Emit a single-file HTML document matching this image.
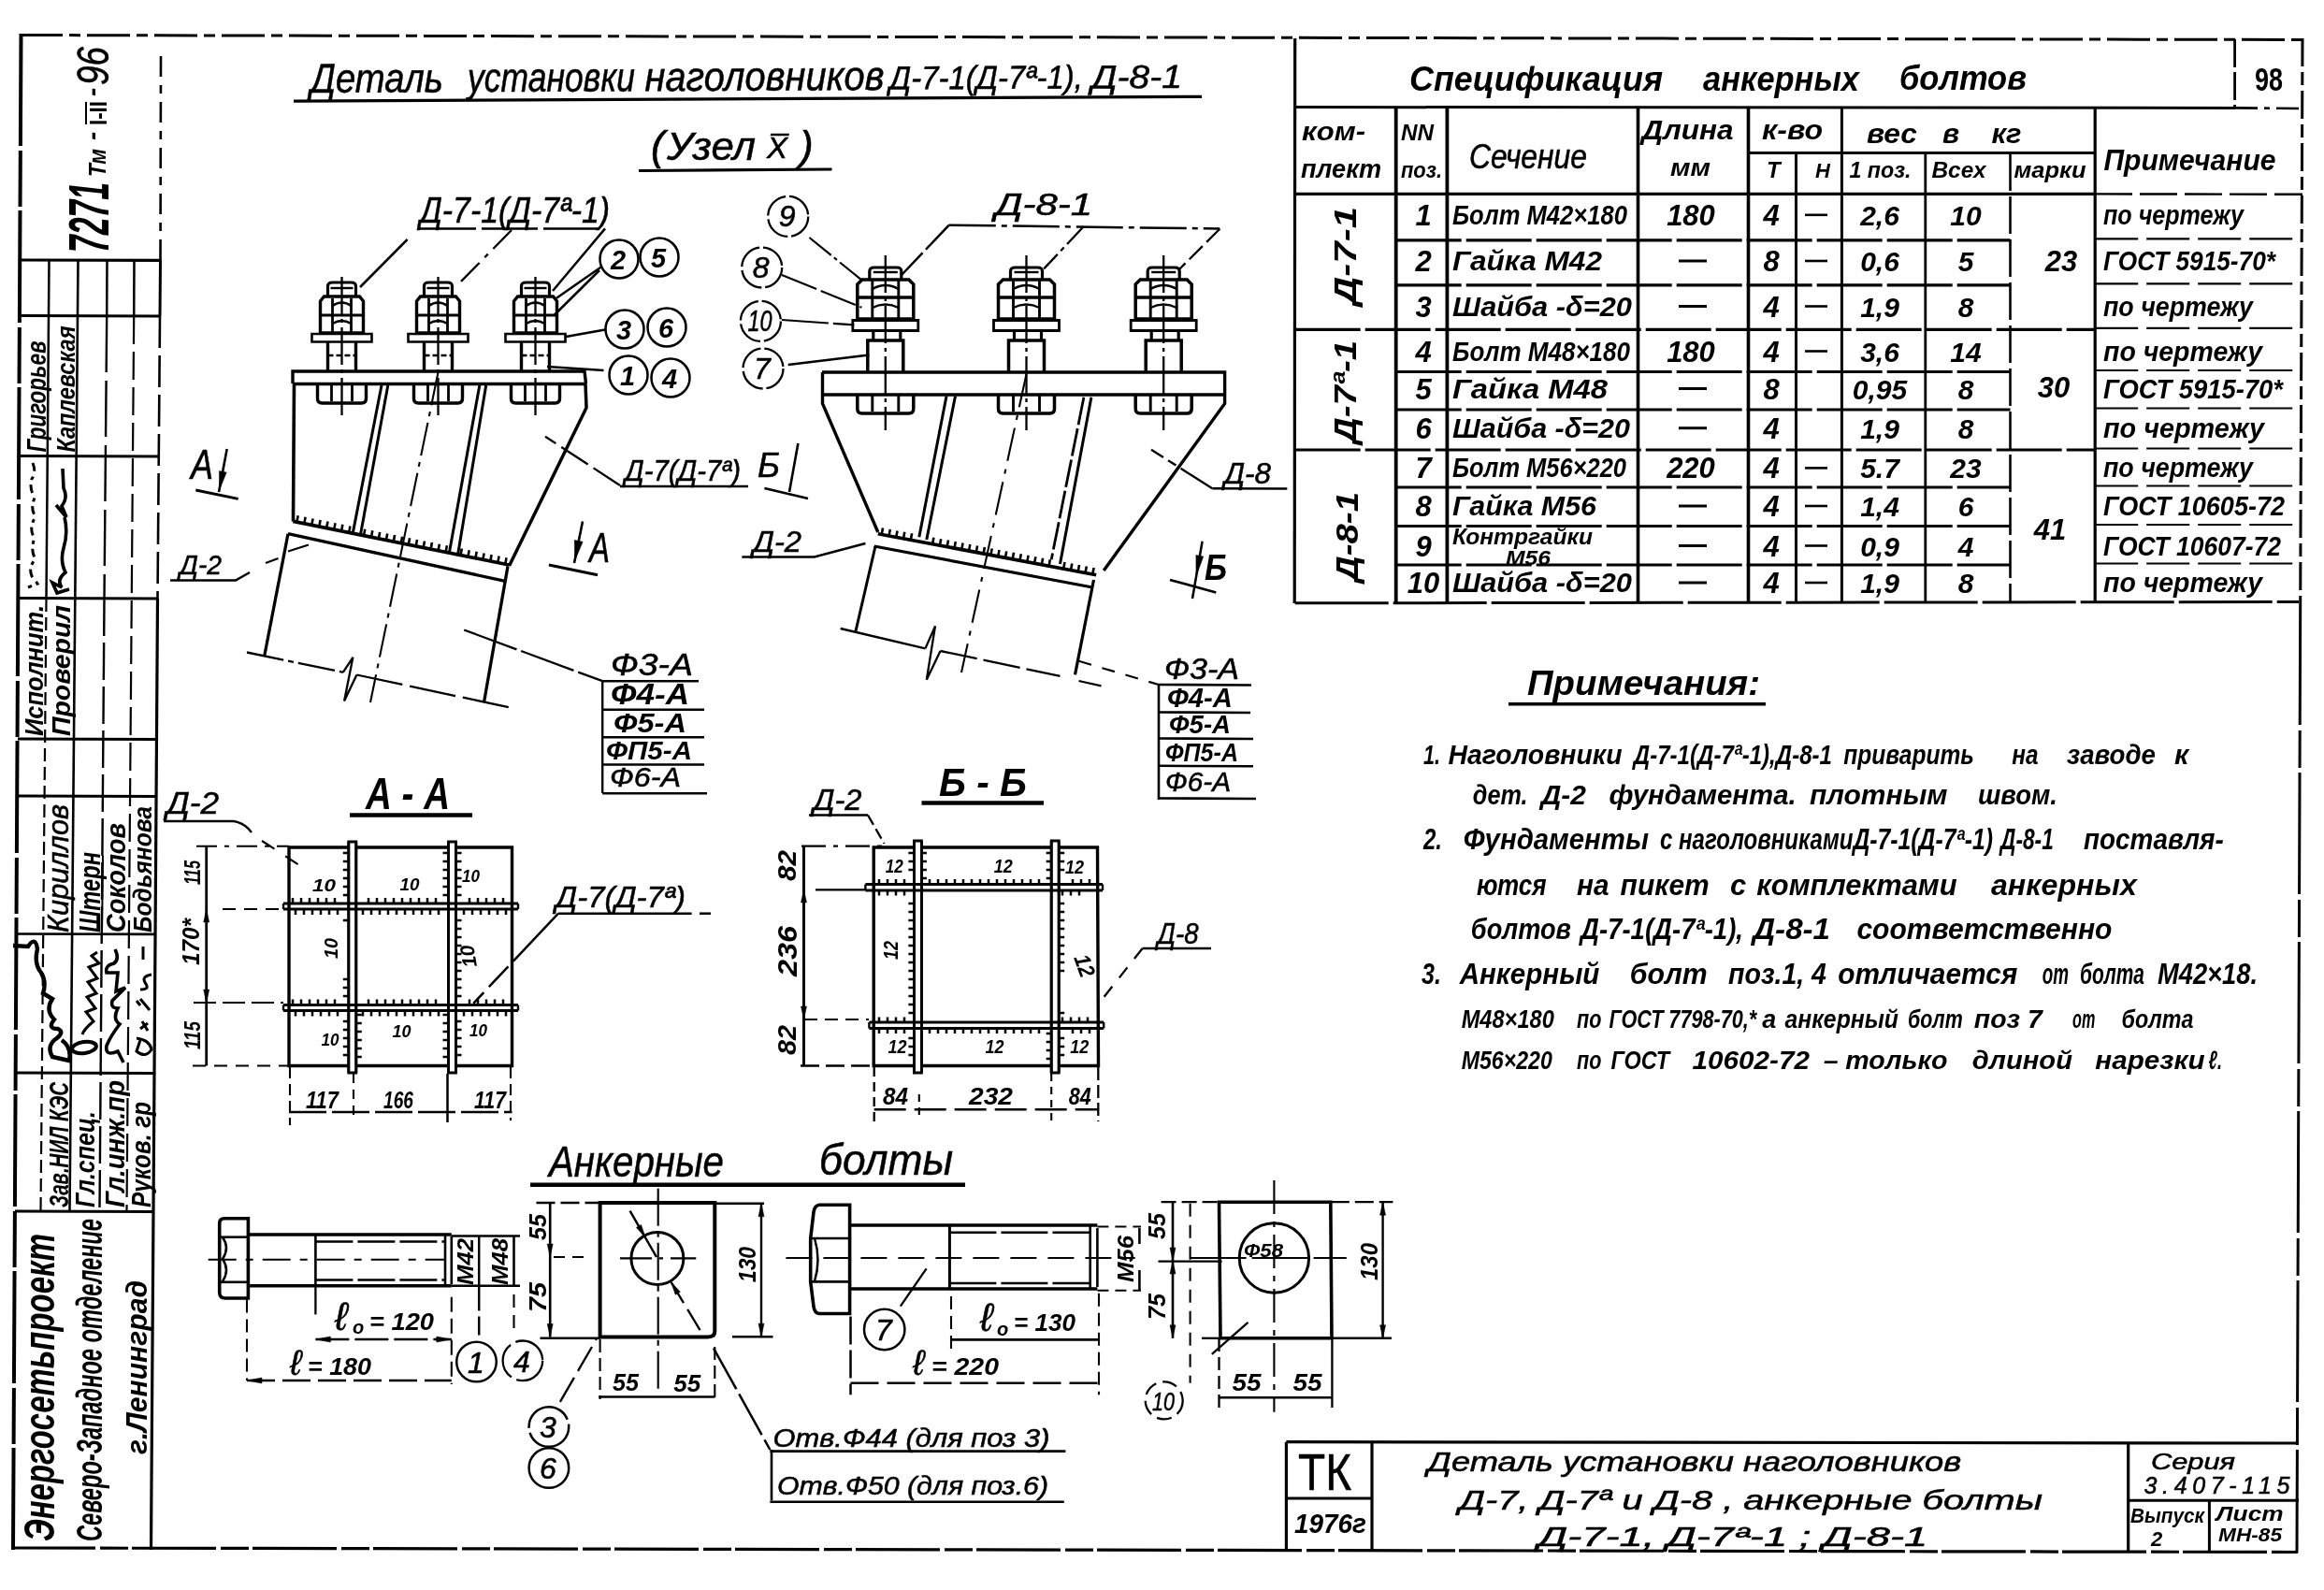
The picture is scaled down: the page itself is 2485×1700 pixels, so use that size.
<!DOCTYPE html>
<html><head><meta charset="utf-8"><title>Деталь установки наголовников</title>
<style>
html,body{margin:0;padding:0;background:#fff}
svg{display:block;filter:grayscale(1)}
text{font-family:"Liberation Sans",sans-serif;font-style:italic;font-weight:bold;fill:#000;stroke:none}
text.n{font-weight:normal;stroke:#000;stroke-width:0.55px}text.r{font-style:normal}
</style></head><body>
<svg width="2485" height="1700" viewBox="0 0 2485 1700">
<rect width="2485" height="1700" fill="#fff"/>
<g stroke="#000" fill="none">
<!-- s_frame -->
<path d="M21 37.5L2463 42.5" stroke-width="3" stroke-dasharray="46 7 12 7"/>
<path d="M22.5 36L14 1657" stroke-width="4" stroke-dasharray="120 5 60 4"/>
<path d="M12 1655L2457 1659.5" stroke-width="3.2" stroke-dasharray="90 5 30 4"/>
<path d="M2462 41L2459.7 645" stroke-width="3" stroke-dasharray="30 6 14 6"/>
<path d="M2459.7 645L2456 1660" stroke-width="3" stroke-dasharray="130 6 40 5"/>
<path d="M172 60L171.5 278" stroke-width="2.6" stroke-dasharray="22 9 9 9"/>
<path d="M171.5 278L171 338" stroke-width="3"/>
<path d="M171 338L168.5 640" stroke-width="2.6" stroke-dasharray="34 8"/>
<path d="M168.5 640L161.5 1657" stroke-width="3.2"/>
<path d="M22 278L172 278.4" stroke-width="3.2"/>
<path d="M22 337.6L171 338" stroke-width="3"/>
<path d="M21 487.6L170 488" stroke-width="3"/>
<path d="M20 639.5L169 639.9" stroke-width="3"/>
<path d="M19 790L168 790.4" stroke-width="3"/>
<path d="M18.5 851L167.5 851.4" stroke-width="3"/>
<path d="M18 998.5L166 998.9" stroke-width="2.6"/>
<path d="M17 1147L165 1147.4" stroke-width="3"/>
<path d="M16 1295L164 1295.4" stroke-width="3"/>
<path d="M52.5 278L49.5 640" stroke-width="2.5"/>
<path d="M49.5 640L43.5 1295" stroke-width="2.2" stroke-dasharray="14 6"/>
<path d="M83.5 278L74.5 1295" stroke-width="2.6"/>
<path d="M114.5 278L114.2 338" stroke-width="2.5"/>
<path d="M114.2 338L111.5 640" stroke-width="2.4" stroke-dasharray="60 9"/>
<path d="M111.5 640L106.5 1295" stroke-width="2.4" stroke-dasharray="40 7"/>
<path d="M143.5 278L143.2 338" stroke-width="2.5"/>
<path d="M143.2 338L135.5 1295" stroke-width="2.2" stroke-dasharray="30 8"/>
<text x="116" y="270" font-size="61" textLength="75" lengthAdjust="spacingAndGlyphs" transform="rotate(-90 116 270)">7271</text>
<text x="113" y="189" font-size="25" textLength="30" lengthAdjust="spacingAndGlyphs" transform="rotate(-90 113 189)">Тм</text>
<text x="108" y="150" font-size="28" transform="rotate(-90 108 150)">-</text>
<text x="114" y="134" font-size="26" class="r" textLength="26" lengthAdjust="spacingAndGlyphs" transform="rotate(-90 114 134)">I-II</text>
<path d="M92 109L92 133" stroke-width="2"/>
<text x="108" y="103" font-size="28" transform="rotate(-90 108 103)">-</text>
<text x="116" y="91" font-size="48" class="n" textLength="41" lengthAdjust="spacingAndGlyphs" transform="rotate(-90 116 91)">96</text>
<text x="48.5" y="483.5" font-size="29" textLength="119" lengthAdjust="spacingAndGlyphs" transform="rotate(-90 48.5 483.5)">Григорьев</text>
<text x="79.5" y="483.5" font-size="28" textLength="135" lengthAdjust="spacingAndGlyphs" transform="rotate(-90 79.5 483.5)">Каплевская</text>
<text x="46" y="787" font-size="28" textLength="140" lengthAdjust="spacingAndGlyphs" transform="rotate(-90 46 787)">Исполнит.</text>
<text x="74.5" y="787" font-size="28" textLength="140" lengthAdjust="spacingAndGlyphs" transform="rotate(-90 74.5 787)">Проверил</text>
<text x="73" y="997" font-size="31" class="n" textLength="137" lengthAdjust="spacingAndGlyphs" transform="rotate(-90 73 997)">Кириллов</text>
<text x="107" y="997" font-size="32" textLength="86" lengthAdjust="spacingAndGlyphs" transform="rotate(-90 107 997)">Штерн</text>
<path d="M110 915L109 997" stroke-width="2"/>
<text x="134" y="997" font-size="30" textLength="117" lengthAdjust="spacingAndGlyphs" transform="rotate(-90 134 997)">Соколов</text>
<text x="162" y="997" font-size="28" textLength="135" lengthAdjust="spacingAndGlyphs" transform="rotate(-90 162 997)">Бодьянова</text>
<text x="72.5" y="1291" font-size="30" textLength="134" lengthAdjust="spacingAndGlyphs" transform="rotate(-90 72.5 1291)">Зав.НИЛ КЭС</text>
<text x="101" y="1291" font-size="30" textLength="103" lengthAdjust="spacingAndGlyphs" transform="rotate(-90 101 1291)">Гл.спец.</text>
<text x="133" y="1291" font-size="30" textLength="136" lengthAdjust="spacingAndGlyphs" transform="rotate(-90 133 1291)">Гл.инж.пр</text>
<text x="161" y="1291" font-size="29" textLength="113" lengthAdjust="spacingAndGlyphs" transform="rotate(-90 161 1291)">Руков. гр</text>
<text x="57.5" y="1648" font-size="46" textLength="329" lengthAdjust="spacingAndGlyphs" transform="rotate(-90 57.5 1648)">Энергосетьпроект</text>
<text x="109" y="1648" font-size="38" textLength="345" lengthAdjust="spacingAndGlyphs" transform="rotate(-90 109 1648)">Северо-Западное отделение</text>
<text x="157" y="1555" font-size="32" textLength="186" lengthAdjust="spacingAndGlyphs" transform="rotate(-90 157 1555)">г.Ленинград</text>
<path d="M35 495Q39 505 34 512Q31 522 37 532Q32 545 38 552Q30 566 37 575Q32 588 38 598Q30 606 34 616L40 624L30 628" stroke-width="3" stroke-dasharray="9 6 4 5"/>
<path d="M67 501L68 522Q73 532 66 541L71 553L60 540M69 553Q73 570 68 586Q64 600 70 612Q60 620 66 628L56 623L61 634L74 630" stroke-width="3.6"/>
<path d="M14 1011L30 1012Q38 1000 40 1015Q36 1030 44 1040Q50 1050 46 1062L56 1068Q48 1080 58 1090Q50 1100 62 1100Q70 1104 58 1112Q50 1120 56 1130L74 1134Q77 1120 66 1112" stroke-width="4.4"/>
<path d="M104 1018L98 1022L106 1030L95 1034L104 1046L94 1050L103 1062L93 1066L102 1078L92 1082L100 1092Q90 1100 88 1106" stroke-width="3"/>
<ellipse cx="90" cy="1120" rx="13" ry="6" stroke-width="4" transform="rotate(-8 90 1120)"/>
<path d="M123 1015Q128 1025 122 1030Q112 1032 114 1040L126 1040L124 1060L134 1056L120 1070Q118 1078 126 1078Q120 1090 128 1095Q118 1108 114 1118Q112 1130 126 1124L132 1136" stroke-width="3.6"/>
<path d="M153 1012V1026M162 1042Q150 1044 156 1052Q160 1058 150 1058M150 1068L160 1080M146 1070L150 1075M152 1092L158 1102M158 1094L150 1100M146 1110Q160 1112 162 1122Q156 1132 146 1124L150 1112" stroke-width="3"/>
<!-- s_title -->
<g transform="rotate(-0.28 332 99)">
<text x="332" y="99" font-size="44" class="n" textLength="142" lengthAdjust="spacingAndGlyphs">Деталь</text>
<text x="500" y="99" font-size="44" class="n" textLength="179" lengthAdjust="spacingAndGlyphs">установки</text>
<text x="689.5" y="99" font-size="44" class="n" textLength="256" lengthAdjust="spacingAndGlyphs">наголовников</text>
<text x="951" y="98.5" font-size="35" class="n" textLength="207" lengthAdjust="spacingAndGlyphs">Д-7-1(Д-7ª-1),</text>
<text x="1167" y="98.5" font-size="35" class="n" textLength="97" lengthAdjust="spacingAndGlyphs">Д-8-1</text>
<path d="M314 108L1285 108" stroke-width="3.2"/>
</g>
<text x="696" y="170.5" font-size="44" class="n">(</text>
<text x="713" y="170.5" font-size="42" class="n" textLength="95" lengthAdjust="spacingAndGlyphs">Узел</text>
<text x="820" y="169" font-size="32" class="n" textLength="22" lengthAdjust="spacingAndGlyphs">X̅</text>
<text x="855" y="170.5" font-size="44" class="n">)</text>
<path d="M683 182.5L889.5 181" stroke-width="3.2"/>
<!-- s_node1 -->
<path d="M365.5 296L365.5 446" stroke-width="2.3" stroke-dasharray="40 5 4 5"/>
<path d="M350.5 317V306Q350.5 302 355.5 302H375.5Q380.5 302 380.5 306V317" stroke-width="3.2"/>
<path d="M353.5 308L377.5 308" stroke-width="2.4"/>
<path d="M342.5 337V322L346.5 317H384.5L388.5 322V337" stroke-width="3.4"/>
<path d="M342.5 337L342.5 356L388.5 356L388.5 337" stroke-width="3.4"/>
<path d="M342.5 337L388.5 337" stroke-width="3.2"/>
<path d="M355.5 319L355.5 356" stroke-width="2.8"/>
<path d="M375.5 319L375.5 356" stroke-width="2.8"/>
<path d="M355.5 327Q365.5 320 375.5 327 M355.5 346Q365.5 340 375.5 346" stroke-width="2.6"/>
<path d="M333.5 357L397.5 357L397.5 365.5L333.5 365.5Z" stroke-width="2.6"/>
<path d="M350.5 366L350.5 397" stroke-width="3.4"/>
<path d="M380.5 366L380.5 397" stroke-width="3.4"/>
<path d="M350.5 380L380.5 380" stroke-width="2.6" stroke-dasharray="6 3"/>
<path d="M339.5 411V426Q339.5 431 344.5 431H386.5Q391.5 431 391.5 426V411" stroke-width="3.4"/>
<path d="M354.5 411L354.5 429" stroke-width="2.8"/>
<path d="M376.5 411L376.5 429" stroke-width="2.8"/>
<path d="M468.5 296L468.5 446" stroke-width="2.3" stroke-dasharray="40 5 4 5"/>
<path d="M453.5 317V306Q453.5 302 458.5 302H478.5Q483.5 302 483.5 306V317" stroke-width="3.2"/>
<path d="M456.5 308L480.5 308" stroke-width="2.4"/>
<path d="M445.5 337V322L449.5 317H487.5L491.5 322V337" stroke-width="3.4"/>
<path d="M445.5 337L445.5 356L491.5 356L491.5 337" stroke-width="3.4"/>
<path d="M445.5 337L491.5 337" stroke-width="3.2"/>
<path d="M458.5 319L458.5 356" stroke-width="2.8"/>
<path d="M478.5 319L478.5 356" stroke-width="2.8"/>
<path d="M458.5 327Q468.5 320 478.5 327 M458.5 346Q468.5 340 478.5 346" stroke-width="2.6"/>
<path d="M436.5 357L500.5 357L500.5 365.5L436.5 365.5Z" stroke-width="2.6"/>
<path d="M453.5 366L453.5 397" stroke-width="3.4"/>
<path d="M483.5 366L483.5 397" stroke-width="3.4"/>
<path d="M453.5 380L483.5 380" stroke-width="2.6" stroke-dasharray="6 3"/>
<path d="M442.5 411V426Q442.5 431 447.5 431H489.5Q494.5 431 494.5 426V411" stroke-width="3.4"/>
<path d="M457.5 411L457.5 429" stroke-width="2.8"/>
<path d="M479.5 411L479.5 429" stroke-width="2.8"/>
<path d="M572.5 296L572.5 446" stroke-width="2.3" stroke-dasharray="40 5 4 5"/>
<path d="M557.5 317V306Q557.5 302 562.5 302H582.5Q587.5 302 587.5 306V317" stroke-width="3.2"/>
<path d="M560.5 308L584.5 308" stroke-width="2.4"/>
<path d="M549.5 337V322L553.5 317H591.5L595.5 322V337" stroke-width="3.4"/>
<path d="M549.5 337L549.5 356L595.5 356L595.5 337" stroke-width="3.4"/>
<path d="M549.5 337L595.5 337" stroke-width="3.2"/>
<path d="M562.5 319L562.5 356" stroke-width="2.8"/>
<path d="M582.5 319L582.5 356" stroke-width="2.8"/>
<path d="M562.5 327Q572.5 320 582.5 327 M562.5 346Q572.5 340 582.5 346" stroke-width="2.6"/>
<path d="M540.5 357L604.5 357L604.5 365.5L540.5 365.5Z" stroke-width="2.6"/>
<path d="M557.5 366L557.5 397" stroke-width="3.4"/>
<path d="M587.5 366L587.5 397" stroke-width="3.4"/>
<path d="M557.5 380L587.5 380" stroke-width="2.6" stroke-dasharray="6 3"/>
<path d="M546.5 411V426Q546.5 431 551.5 431H593.5Q598.5 431 598.5 426V411" stroke-width="3.4"/>
<path d="M561.5 411L561.5 429" stroke-width="2.8"/>
<path d="M583.5 411L583.5 429" stroke-width="2.8"/>
<path d="M313 410L313 397L625 397L626.5 410" stroke-width="3.4"/>
<path d="M313 410.5L626 410.5" stroke-width="3.4"/>
<path d="M314.5 410L313.5 557.5" stroke-width="3.6"/>
<path d="M626 410L627 436L544.5 605" stroke-width="3.5"/>
<path d="M408 412L377.4 569.4" stroke-width="3"/>
<path d="M414.8 412L385.4 572" stroke-width="3"/>
<path d="M512.8 412L480.2 592" stroke-width="3"/>
<path d="M519.7 412L489.5 593.4" stroke-width="3"/>
<path d="M468.5 398L396 751" stroke-width="2.1" stroke-dasharray="36 7 5 7"/>
<path d="M313.4 557.4L544.2 604" stroke-width="3.7"/>
<path d="M308 570.7L540.2 621.4" stroke-width="3.3"/>
<path d="M317.4 558.2L318.7 551.2" stroke-width="2.6"/>
<path d="M325.3 559.8L326.6 552.8" stroke-width="2.6"/>
<path d="M333.3 561.4L334.6 554.4" stroke-width="2.6"/>
<path d="M341.3 563L342.6 556" stroke-width="2.6"/>
<path d="M349.2 564.6L350.5 557.6" stroke-width="2.6"/>
<path d="M357.2 566.2L358.5 559.2" stroke-width="2.6"/>
<path d="M365.1 567.8L366.4 560.8" stroke-width="2.6"/>
<path d="M373.1 569.5L374.4 562.5" stroke-width="2.6"/>
<path d="M389 572.7L390.3 565.7" stroke-width="2.6"/>
<path d="M397 574.3L398.3 567.3" stroke-width="2.6"/>
<path d="M404.9 575.9L406.2 568.9" stroke-width="2.6"/>
<path d="M412.9 577.5L414.2 570.5" stroke-width="2.6"/>
<path d="M420.8 579.1L422.1 572.1" stroke-width="2.6"/>
<path d="M428.8 580.7L430.1 573.7" stroke-width="2.6"/>
<path d="M436.8 582.3L438.1 575.3" stroke-width="2.6"/>
<path d="M444.7 583.9L446 576.9" stroke-width="2.6"/>
<path d="M452.7 585.5L454 578.5" stroke-width="2.6"/>
<path d="M460.6 587.1L461.9 580.1" stroke-width="2.6"/>
<path d="M468.6 588.7L469.9 581.7" stroke-width="2.6"/>
<path d="M476.6 590.3L477.9 583.3" stroke-width="2.6"/>
<path d="M492.5 593.6L493.8 586.6" stroke-width="2.6"/>
<path d="M500.4 595.2L501.7 588.2" stroke-width="2.6"/>
<path d="M508.4 596.8L509.7 589.8" stroke-width="2.6"/>
<path d="M516.3 598.4L517.6 591.4" stroke-width="2.6"/>
<path d="M524.3 600L525.6 593" stroke-width="2.6"/>
<path d="M532.3 601.6L533.6 594.6" stroke-width="2.6"/>
<path d="M540.2 603.2L541.5 596.2" stroke-width="2.6"/>
<path d="M308 570.7L282.7 701.5" stroke-width="3.3"/>
<path d="M543 605.4L517.5 751" stroke-width="3.3"/>
<path d="M264 697.5L366.8 718.8" stroke-width="2.3" stroke-dasharray="40 5 6 5"/>
<path d="M366.8 718.8L377.4 702.8L368.1 749.5L381.4 721.5" stroke-width="2.3"/>
<path d="M381.4 721.5L544.2 756.2" stroke-width="2.3" stroke-dasharray="50 8"/>
<path d="M496.2 673.5L644.2 728.2" stroke-width="2.3" stroke-dasharray="60 5"/>
<path d="M644.2 728L644.2 848" stroke-width="2.4"/>
<path d="M644.2 728.2L747 728.2" stroke-width="2.6"/>
<path d="M644.2 758.8L753 758.8" stroke-width="2.6"/>
<path d="M644.2 788.2L753 788.2" stroke-width="2.6"/>
<path d="M644.2 817.5L753 817.5" stroke-width="2.6"/>
<path d="M644.2 848.2L756 848.2" stroke-width="2.6"/>
<text x="653" y="721.5" font-size="33" class="n" textLength="88" lengthAdjust="spacingAndGlyphs">Ф3-А</text>
<text x="653" y="753" font-size="31" textLength="84" lengthAdjust="spacingAndGlyphs">Ф4-А</text>
<text x="656" y="783" font-size="30" textLength="78" lengthAdjust="spacingAndGlyphs">Ф5-А</text>
<text x="648" y="812" font-size="28" textLength="92" lengthAdjust="spacingAndGlyphs">ФП5-А</text>
<text x="652" y="841" font-size="30" class="n" textLength="76" lengthAdjust="spacingAndGlyphs">Ф6-А</text>
<text x="204" y="512" font-size="44" class="n" textLength="24" lengthAdjust="spacingAndGlyphs">А</text>
<path d="M242.7 480L234 526" stroke-width="2.6"/>
<path d="M234.5 524L234.4 503.6L242.2 505.1Z" fill="#000" stroke-width="0.5"/>
<path d="M209.3 524L254.7 533.4" stroke-width="3"/>
<text x="630" y="601" font-size="44" class="n" textLength="22" lengthAdjust="spacingAndGlyphs">А</text>
<path d="M623 557.4L614 602" stroke-width="2.6"/>
<path d="M614.5 600L614.3 577.5L623.1 579.3Z" fill="#000" stroke-width="0.5"/>
<path d="M586.9 604L639 614.8" stroke-width="3"/>
<text x="192" y="613.5" font-size="29" class="n" textLength="45" lengthAdjust="spacingAndGlyphs">Д-2</text>
<path d="M182 620.5L252 620.5L267 612" stroke-width="2.5"/>
<path d="M284 602L297.5 597" stroke-width="2.3"/>
<path d="M308 589.5L330 582.5" stroke-width="2.3"/>
<text x="668" y="513.5" font-size="31" class="n" textLength="124" lengthAdjust="spacingAndGlyphs">Д-7(Д-7ª)</text>
<path d="M663 520L800 520" stroke-width="2.4"/>
<path d="M663 519L583 466.7" stroke-width="2.3" stroke-dasharray="34 7"/>
<text x="449" y="237.5" font-size="38" class="n" textLength="203" lengthAdjust="spacingAndGlyphs">Д-7-1(Д-7ª-1)</text>
<path d="M449 244.5L647 244.5" stroke-width="2.5" stroke-dasharray="60 6"/>
<path d="M435.6 256L385 307" stroke-width="2.5"/>
<path d="M547 246L490 304" stroke-width="2.3" stroke-dasharray="28 8 5 8"/>
<path d="M647 244.4L591 311" stroke-width="2.5"/>
<circle cx="662" cy="277" r="20.5" stroke-width="2.5"/>
<text x="661" y="287.5" font-size="29" text-anchor="middle">2</text>
<circle cx="705" cy="275" r="20.5" stroke-width="2.5"/>
<text x="704" y="285.5" font-size="29" text-anchor="middle">5</text>
<circle cx="668" cy="352" r="20.5" stroke-width="2.5"/>
<text x="667" y="362.5" font-size="29" text-anchor="middle">3</text>
<circle cx="713" cy="350" r="20.5" stroke-width="2.5"/>
<text x="712" y="360.5" font-size="29" text-anchor="middle">6</text>
<circle cx="672" cy="401" r="20.5" stroke-width="2.5"/>
<text x="671" y="411.5" font-size="29" text-anchor="middle">1</text>
<circle cx="717" cy="404" r="20.5" stroke-width="2.5"/>
<text x="716" y="414.5" font-size="29" text-anchor="middle">4</text>
<path d="M643.5 285L595 318.7" stroke-width="2.5"/>
<path d="M641 289L593 336.5" stroke-width="2.5"/>
<path d="M648.4 352.3L605 360" stroke-width="2.5"/>
<path d="M645.5 396L585 392" stroke-width="2.3"/>
<!-- s_node2 -->
<path d="M946.8 273L946.8 460" stroke-width="2.3" stroke-dasharray="40 5 4 5"/>
<path d="M929.8 299V290Q929.8 286 934.8 286H958.8Q963.8 286 963.8 290V299" stroke-width="3.2"/>
<path d="M933.8 291L959.8 291" stroke-width="2.4"/>
<path d="M916.8 318V304L921.8 299H971.8L976.8 304V318" stroke-width="3.5"/>
<path d="M916.8 318L916.8 341L976.8 341L976.8 318" stroke-width="3.5"/>
<path d="M916.8 318L976.8 318" stroke-width="3.4"/>
<path d="M932.8 300L932.8 341" stroke-width="2.9"/>
<path d="M960.8 300L960.8 341" stroke-width="2.9"/>
<path d="M932.8 309Q946.8 301 960.8 309 M932.8 329Q946.8 322 960.8 329" stroke-width="2.4"/>
<path d="M911.8 342.5L981.8 342.5L981.8 353.5L911.8 353.5Z" stroke-width="2.8"/>
<path d="M933.8 354L933.8 364" stroke-width="3.2"/>
<path d="M962.8 354L962.8 364" stroke-width="3.2"/>
<path d="M927.8 398L927.8 364L965.8 364L965.8 398" stroke-width="3.5"/>
<path d="M916.8 423V437Q916.8 442 921.8 442H971.8Q976.8 442 976.8 437V423" stroke-width="3.5"/>
<path d="M932.8 423L932.8 440" stroke-width="2.9"/>
<path d="M960.8 423L960.8 440" stroke-width="2.9"/>
<path d="M1097.5 273L1097.5 460" stroke-width="2.3" stroke-dasharray="40 5 4 5"/>
<path d="M1080.5 299V290Q1080.5 286 1085.5 286H1109.5Q1114.5 286 1114.5 290V299" stroke-width="3.2"/>
<path d="M1084.5 291L1110.5 291" stroke-width="2.4"/>
<path d="M1067.5 318V304L1072.5 299H1122.5L1127.5 304V318" stroke-width="3.5"/>
<path d="M1067.5 318L1067.5 341L1127.5 341L1127.5 318" stroke-width="3.5"/>
<path d="M1067.5 318L1127.5 318" stroke-width="3.4"/>
<path d="M1083.5 300L1083.5 341" stroke-width="2.9"/>
<path d="M1111.5 300L1111.5 341" stroke-width="2.9"/>
<path d="M1083.5 309Q1097.5 301 1111.5 309 M1083.5 329Q1097.5 322 1111.5 329" stroke-width="2.4"/>
<path d="M1062.5 342.5L1132.5 342.5L1132.5 353.5L1062.5 353.5Z" stroke-width="2.8"/>
<path d="M1084.5 354L1084.5 364" stroke-width="3.2"/>
<path d="M1113.5 354L1113.5 364" stroke-width="3.2"/>
<path d="M1078.5 398L1078.5 364L1116.5 364L1116.5 398" stroke-width="3.5"/>
<path d="M1067.5 423V437Q1067.5 442 1072.5 442H1122.5Q1127.5 442 1127.5 437V423" stroke-width="3.5"/>
<path d="M1083.5 423L1083.5 440" stroke-width="2.9"/>
<path d="M1111.5 423L1111.5 440" stroke-width="2.9"/>
<path d="M1244.2 273L1244.2 460" stroke-width="2.3" stroke-dasharray="40 5 4 5"/>
<path d="M1227.2 299V290Q1227.2 286 1232.2 286H1256.2Q1261.2 286 1261.2 290V299" stroke-width="3.2"/>
<path d="M1231.2 291L1257.2 291" stroke-width="2.4"/>
<path d="M1214.2 318V304L1219.2 299H1269.2L1274.2 304V318" stroke-width="3.5"/>
<path d="M1214.2 318L1214.2 341L1274.2 341L1274.2 318" stroke-width="3.5"/>
<path d="M1214.2 318L1274.2 318" stroke-width="3.4"/>
<path d="M1230.2 300L1230.2 341" stroke-width="2.9"/>
<path d="M1258.2 300L1258.2 341" stroke-width="2.9"/>
<path d="M1230.2 309Q1244.2 301 1258.2 309 M1230.2 329Q1244.2 322 1258.2 329" stroke-width="2.4"/>
<path d="M1209.2 342.5L1279.2 342.5L1279.2 353.5L1209.2 353.5Z" stroke-width="2.8"/>
<path d="M1231.2 354L1231.2 364" stroke-width="3.2"/>
<path d="M1260.2 354L1260.2 364" stroke-width="3.2"/>
<path d="M1225.2 398L1225.2 364L1263.2 364L1263.2 398" stroke-width="3.5"/>
<path d="M1214.2 423V437Q1214.2 442 1219.2 442H1269.2Q1274.2 442 1274.2 437V423" stroke-width="3.5"/>
<path d="M1230.2 423L1230.2 440" stroke-width="2.9"/>
<path d="M1258.2 423L1258.2 440" stroke-width="2.9"/>
<path d="M879 398L1309.6 398L1309.6 431.5L1180.2 610" stroke-width="3.4"/>
<path d="M879 422L1309.6 422" stroke-width="3.4"/>
<path d="M879.5 398L879.5 431.5L938.8 569" stroke-width="3.4"/>
<path d="M1012 423.5L982.8 574.2" stroke-width="3"/>
<path d="M1021.5 423.5L990.8 577" stroke-width="3"/>
<path d="M1158.9 424.8L1124.2 598.2" stroke-width="2.8" stroke-dasharray="30 4"/>
<path d="M1166.9 424.8L1133.5 603" stroke-width="3"/>
<path d="M1097.5 400L1028 719" stroke-width="2.1" stroke-dasharray="36 9 5 9"/>
<path d="M938.8 570.7L1172.2 614.7" stroke-width="3.7"/>
<path d="M934.8 584L1168.2 628" stroke-width="3.2"/>
<path d="M942.7 571.4L944 564.4" stroke-width="2.6"/>
<path d="M950.5 572.9L951.8 565.9" stroke-width="2.6"/>
<path d="M958.2 574.4L959.5 567.4" stroke-width="2.6"/>
<path d="M966 575.8L967.3 568.8" stroke-width="2.6"/>
<path d="M973.8 577.3L975.1 570.3" stroke-width="2.6"/>
<path d="M997.1 581.7L998.4 574.7" stroke-width="2.6"/>
<path d="M1004.9 583.2L1006.2 576.2" stroke-width="2.6"/>
<path d="M1012.7 584.6L1014 577.6" stroke-width="2.6"/>
<path d="M1020.5 586.1L1021.8 579.1" stroke-width="2.6"/>
<path d="M1028.3 587.6L1029.6 580.6" stroke-width="2.6"/>
<path d="M1036 589L1037.3 582" stroke-width="2.6"/>
<path d="M1043.8 590.5L1045.1 583.5" stroke-width="2.6"/>
<path d="M1051.6 592L1052.9 585" stroke-width="2.6"/>
<path d="M1059.4 593.4L1060.7 586.4" stroke-width="2.6"/>
<path d="M1067.2 594.9L1068.5 587.9" stroke-width="2.6"/>
<path d="M1075 596.4L1076.2 589.4" stroke-width="2.6"/>
<path d="M1082.7 597.8L1084 590.8" stroke-width="2.6"/>
<path d="M1090.5 599.3L1091.8 592.3" stroke-width="2.6"/>
<path d="M1098.3 600.8L1099.6 593.8" stroke-width="2.6"/>
<path d="M1106.1 602.2L1107.4 595.2" stroke-width="2.6"/>
<path d="M1113.8 603.7L1115.1 596.7" stroke-width="2.6"/>
<path d="M1121.6 605.2L1122.9 598.2" stroke-width="2.6"/>
<path d="M1137.2 608.1L1138.5 601.1" stroke-width="2.6"/>
<path d="M1145 609.6L1146.3 602.6" stroke-width="2.6"/>
<path d="M1152.8 611L1154 604" stroke-width="2.6"/>
<path d="M1160.5 612.5L1161.8 605.5" stroke-width="2.6"/>
<path d="M1168.3 614L1169.6 607" stroke-width="2.6"/>
<path d="M936 584L914.7 676" stroke-width="3"/>
<path d="M1169.5 620L1149.5 721.4" stroke-width="3.2"/>
<path d="M898.7 672L989.4 693.4" stroke-width="2.5"/>
<path d="M989.4 693.4L1000 669.4L990.8 726.8L1005.5 696" stroke-width="2.3"/>
<path d="M1005.5 696L1133.5 722.8" stroke-width="2.3" stroke-dasharray="40 7"/>
<path d="M1153.5 728L1177.5 733.4" stroke-width="2.3"/>
<path d="M1153.5 706.8L1238.9 732" stroke-width="2.1" stroke-dasharray="14 12"/>
<path d="M1239 732L1239 855" stroke-width="2.6"/>
<path d="M1239 732L1338 732.5" stroke-width="2.6"/>
<path d="M1239 761.5L1337 762" stroke-width="2.6"/>
<path d="M1239 789.5L1340 790" stroke-width="2.6"/>
<path d="M1239 818.8L1340 819.3" stroke-width="2.6"/>
<path d="M1239 853.5L1343 854" stroke-width="2.6"/>
<text x="1245" y="725.5" font-size="31" class="n" textLength="80" lengthAdjust="spacingAndGlyphs">Ф3-А</text>
<text x="1248" y="756" font-size="29" textLength="70" lengthAdjust="spacingAndGlyphs">Ф4-А</text>
<text x="1250" y="784" font-size="27" textLength="66" lengthAdjust="spacingAndGlyphs">Ф5-А</text>
<text x="1246" y="813.5" font-size="27" textLength="78" lengthAdjust="spacingAndGlyphs">ФП5-А</text>
<text x="1246" y="846" font-size="29" class="n" textLength="70" lengthAdjust="spacingAndGlyphs">Ф6-А</text>
<text x="1064" y="230" font-size="33" class="n" textLength="104" lengthAdjust="spacingAndGlyphs">Д-8-1</text>
<path d="M1014.8 240.7L1304.3 244.5" stroke-width="2.5" stroke-dasharray="50 6 6 6"/>
<path d="M1014.8 240.7L964 294" stroke-width="2.5" stroke-dasharray="36 5"/>
<path d="M1158.9 242L1116.2 287.4" stroke-width="2.3" stroke-dasharray="26 5 5 5"/>
<path d="M1304.3 244.7L1260.2 288.7" stroke-width="2.3" stroke-dasharray="20 6"/>
<text x="1309" y="517" font-size="31" class="n" textLength="50" lengthAdjust="spacingAndGlyphs">Д-8</text>
<path d="M1296.3 522.2L1376.3 522.5" stroke-width="2.6"/>
<path d="M1296.3 522.2L1231 480.8" stroke-width="2.3" stroke-dasharray="40 6 10 6"/>
<circle cx="842.7" cy="231.4" r="21.5" stroke-width="2.3" stroke-dasharray="30 4"/>
<text x="841.7" y="242.4" font-size="32" text-anchor="middle" class="n">9</text>
<circle cx="814.7" cy="286" r="21.5" stroke-width="2.3" stroke-dasharray="30 4"/>
<text x="813.7" y="297" font-size="32" text-anchor="middle" class="n">8</text>
<circle cx="813.4" cy="343.4" r="21.5" stroke-width="2.3" stroke-dasharray="30 4"/>
<text x="812.4" y="354.4" font-size="32" text-anchor="middle" class="n" textLength="26" lengthAdjust="spacingAndGlyphs">10</text>
<circle cx="816" cy="394" r="21.5" stroke-width="2.3" stroke-dasharray="30 4"/>
<text x="815" y="405" font-size="32" text-anchor="middle" class="n">7</text>
<path d="M865.4 254L921.4 299.4" stroke-width="2.1" stroke-dasharray="30 4 4 4"/>
<path d="M836 294L921.4 328.7" stroke-width="2.1" stroke-dasharray="40 5"/>
<path d="M836 342L913.4 347.4" stroke-width="2.1" stroke-dasharray="50 5"/>
<path d="M842.7 390L929.4 379.4" stroke-width="2.5"/>
<text x="810" y="510" font-size="36" class="n" textLength="24" lengthAdjust="spacingAndGlyphs">Б</text>
<path d="M853.4 474L844 526" stroke-width="2.6"/>
<path d="M817.4 522L864 533" stroke-width="2.6"/>
<text x="805" y="590" font-size="31" class="n" textLength="52" lengthAdjust="spacingAndGlyphs">Д-2</text>
<path d="M793.3 595.5L870.7 595.5L925.4 581" stroke-width="2.5"/>
<text x="1288" y="620" font-size="38" textLength="24" lengthAdjust="spacingAndGlyphs">Б</text>
<path d="M1285.6 578.7L1275 640" stroke-width="2.5"/>
<path d="M1279 616L1278.9 593.6L1286.8 595Z" fill="#000" stroke-width="0.5"/>
<path d="M1251 620L1300.3 633.4" stroke-width="2.6"/>
<!-- s_table -->
<path d="M1384.7 41L1384.2 645" stroke-width="3.2"/>
<path d="M1492.7 115L1492.7 645" stroke-width="3.8"/>
<path d="M1547.4 115L1547.4 645" stroke-width="3.8"/>
<path d="M1751.5 115L1751.5 645" stroke-width="3.6"/>
<path d="M1869.5 115L1869.5 645" stroke-width="3.6"/>
<path d="M1920.5 164L1920.5 645" stroke-width="3"/>
<path d="M1969.4 115L1969.4 645" stroke-width="3"/>
<path d="M2058.8 164L2058.8 645" stroke-width="2.8"/>
<path d="M2149.5 164L2149.5 645" stroke-width="2.6" stroke-dasharray="40 6"/>
<path d="M2240.2 115L2240.2 645" stroke-width="3.2"/>
<path d="M2389.6 42L2389.6 116" stroke-width="2.8" stroke-dasharray="30 5"/>
<path d="M1384.7 114.5L2390 115.4" stroke-width="3"/>
<path d="M2390 115.4L2462 116" stroke-width="2.6" stroke-dasharray="24 7 6 7"/>
<path d="M1869.5 163.4L2240 163.4" stroke-width="3"/>
<path d="M1384.7 207.4L2240 207.4" stroke-width="3.2"/>
<path d="M2240 207.4L2462 207.8" stroke-width="2.4" stroke-dasharray="40 8"/>
<path d="M1492.7 256.8L2149.5 256.8" stroke-width="3.2" stroke-dasharray="70 5"/>
<path d="M2240.2 255.3L2455 255.3" stroke-width="2.2" stroke-dasharray="46 9"/>
<path d="M1492.7 304.8L2149.5 304.8" stroke-width="3.2" stroke-dasharray="70 5"/>
<path d="M2240.2 303.3L2455 303.3" stroke-width="2.2" stroke-dasharray="46 9"/>
<path d="M1384.7 352.3L2240.2 352.3" stroke-width="3.2" stroke-dasharray="70 5"/>
<path d="M2240.2 350.8L2455 350.8" stroke-width="2.2" stroke-dasharray="46 9"/>
<path d="M1492.7 397.5L2149.5 397.5" stroke-width="3.2" stroke-dasharray="70 5"/>
<path d="M2240.2 396L2455 396" stroke-width="2.2" stroke-dasharray="46 9"/>
<path d="M1492.7 438L2149.5 438" stroke-width="3.2" stroke-dasharray="70 5"/>
<path d="M2240.2 436.5L2455 436.5" stroke-width="2.2" stroke-dasharray="46 9"/>
<path d="M1384.7 481L2240.2 481" stroke-width="3.2" stroke-dasharray="70 5"/>
<path d="M2240.2 479.5L2455 479.5" stroke-width="2.2" stroke-dasharray="46 9"/>
<path d="M1492.7 521L2149.5 521" stroke-width="3.2" stroke-dasharray="70 5"/>
<path d="M2240.2 519.5L2455 519.5" stroke-width="2.2" stroke-dasharray="46 9"/>
<path d="M1492.7 562.5L2149.5 562.5" stroke-width="3.2" stroke-dasharray="70 5"/>
<path d="M2240.2 561L2455 561" stroke-width="2.2" stroke-dasharray="46 9"/>
<path d="M1492.7 604L2149.5 604" stroke-width="3.2" stroke-dasharray="70 5"/>
<path d="M2240.2 602.5L2455 602.5" stroke-width="2.2" stroke-dasharray="46 9"/>
<path d="M1384.7 644.8L2458 643.5" stroke-width="3" stroke-dasharray="100 5"/>
<text x="1507" y="96.5" font-size="37" textLength="271" lengthAdjust="spacingAndGlyphs">Спецификация</text>
<text x="1821" y="96.5" font-size="37" textLength="167" lengthAdjust="spacingAndGlyphs">анкерных</text>
<text x="2031" y="96" font-size="37" textLength="136" lengthAdjust="spacingAndGlyphs">болтов</text>
<text x="2411" y="97" font-size="35" class="r" textLength="30" lengthAdjust="spacingAndGlyphs">98</text>
<text x="1392" y="150" font-size="28" textLength="68" lengthAdjust="spacingAndGlyphs">ком-</text>
<text x="1391" y="190" font-size="28" textLength="86" lengthAdjust="spacingAndGlyphs">плект</text>
<text x="1498" y="150" font-size="24" textLength="35" lengthAdjust="spacingAndGlyphs">NN</text>
<text x="1498" y="190" font-size="24" textLength="44" lengthAdjust="spacingAndGlyphs">поз.</text>
<text x="1571" y="179.5" font-size="36" class="n" textLength="126" lengthAdjust="spacingAndGlyphs">Сечение</text>
<text x="1755.5" y="148.5" font-size="30" textLength="98" lengthAdjust="spacingAndGlyphs">Длина</text>
<text x="1786" y="187.5" font-size="26" textLength="43" lengthAdjust="spacingAndGlyphs">мм</text>
<text x="1884" y="148.5" font-size="30" textLength="65" lengthAdjust="spacingAndGlyphs">к-во</text>
<text x="1996" y="152.5" font-size="30" textLength="54" lengthAdjust="spacingAndGlyphs">вес</text>
<text x="2077" y="152.5" font-size="30">в</text>
<text x="2129.5" y="152.5" font-size="30" textLength="32" lengthAdjust="spacingAndGlyphs">кг</text>
<text x="1889" y="190" font-size="24">Т</text>
<text x="1941" y="190" font-size="22">Н</text>
<text x="1977.5" y="190" font-size="24" textLength="66" lengthAdjust="spacingAndGlyphs">1 поз.</text>
<text x="2065.5" y="190" font-size="24" textLength="58" lengthAdjust="spacingAndGlyphs">Всех</text>
<text x="2153.5" y="190" font-size="24" textLength="77" lengthAdjust="spacingAndGlyphs">марки</text>
<text x="2249.5" y="182" font-size="31" textLength="184" lengthAdjust="spacingAndGlyphs">Примечание</text>
<text x="1450" y="326" font-size="33" textLength="105" lengthAdjust="spacingAndGlyphs" transform="rotate(-90 1450 326)">Д-7-1</text>
<text x="1450" y="474" font-size="33" textLength="110" lengthAdjust="spacingAndGlyphs" transform="rotate(-90 1450 474)">Д-7ª-1</text>
<text x="1452" y="622" font-size="33" textLength="96" lengthAdjust="spacingAndGlyphs" transform="rotate(-90 1452 622)">Д-8-1</text>
<text x="1522" y="240.8" font-size="31" text-anchor="middle">1</text>
<text x="1553" y="239.8" font-size="29" textLength="187" lengthAdjust="spacingAndGlyphs">Болт М42×180</text>
<text x="1808" y="240.8" font-size="31" text-anchor="middle">180</text>
<text x="1894" y="240.8" font-size="31" text-anchor="middle">4</text>
<path d="M1930 229.8L1954 229.8" stroke-width="2.6"/>
<text x="2010" y="240.8" font-size="30" text-anchor="middle">2,6</text>
<text x="2102" y="240.8" font-size="30" text-anchor="middle">10</text>
<text x="2249" y="239.8" font-size="29" textLength="150" lengthAdjust="spacingAndGlyphs">по чертежу</text>
<text x="1522" y="290" font-size="31" text-anchor="middle">2</text>
<text x="1553" y="289" font-size="29" textLength="160" lengthAdjust="spacingAndGlyphs">Гайка  М42</text>
<path d="M1795 279L1825 279" stroke-width="3"/>
<text x="1894" y="290" font-size="31" text-anchor="middle">8</text>
<path d="M1930 279L1954 279" stroke-width="2.6"/>
<text x="2010" y="290" font-size="30" text-anchor="middle">0,6</text>
<text x="2102" y="290" font-size="30" text-anchor="middle">5</text>
<text x="2249" y="289" font-size="29" textLength="184" lengthAdjust="spacingAndGlyphs">ГОСТ 5915-70*</text>
<text x="1522" y="338.5" font-size="31" text-anchor="middle">3</text>
<text x="1553" y="337.5" font-size="29" textLength="192" lengthAdjust="spacingAndGlyphs">Шайба -δ=20</text>
<path d="M1795 327.5L1825 327.5" stroke-width="3"/>
<text x="1894" y="338.5" font-size="31" text-anchor="middle">4</text>
<path d="M1930 327.5L1954 327.5" stroke-width="2.6"/>
<text x="2010" y="338.5" font-size="30" text-anchor="middle">1,9</text>
<text x="2102" y="338.5" font-size="30" text-anchor="middle">8</text>
<text x="2249" y="337.5" font-size="29" textLength="160" lengthAdjust="spacingAndGlyphs">по чертежу</text>
<text x="1522" y="386.5" font-size="31" text-anchor="middle">4</text>
<text x="1553" y="385.5" font-size="29" textLength="190" lengthAdjust="spacingAndGlyphs">Болт М48×180</text>
<text x="1808" y="386.5" font-size="31" text-anchor="middle">180</text>
<text x="1894" y="386.5" font-size="31" text-anchor="middle">4</text>
<path d="M1930 375.5L1954 375.5" stroke-width="2.6"/>
<text x="2010" y="386.5" font-size="30" text-anchor="middle">3,6</text>
<text x="2102" y="386.5" font-size="30" text-anchor="middle">14</text>
<text x="2249" y="385.5" font-size="29" textLength="170" lengthAdjust="spacingAndGlyphs">по чертежу</text>
<text x="1522" y="426.5" font-size="31" text-anchor="middle">5</text>
<text x="1553" y="425.5" font-size="29" textLength="166" lengthAdjust="spacingAndGlyphs">Гайка  М48</text>
<path d="M1795 415.5L1825 415.5" stroke-width="3"/>
<text x="1894" y="426.5" font-size="31" text-anchor="middle">8</text>
<text x="2010" y="426.5" font-size="30" text-anchor="middle">0,95</text>
<text x="2102" y="426.5" font-size="30" text-anchor="middle">8</text>
<text x="2249" y="425.5" font-size="29" textLength="192" lengthAdjust="spacingAndGlyphs">ГОСТ 5915-70*</text>
<text x="1522" y="468.7" font-size="31" text-anchor="middle">6</text>
<text x="1553" y="467.7" font-size="29" textLength="190" lengthAdjust="spacingAndGlyphs">Шайба  -δ=20</text>
<path d="M1795 457.7L1825 457.7" stroke-width="3"/>
<text x="1894" y="468.7" font-size="31" text-anchor="middle">4</text>
<text x="2010" y="468.7" font-size="30" text-anchor="middle">1,9</text>
<text x="2102" y="468.7" font-size="30" text-anchor="middle">8</text>
<text x="2249" y="467.7" font-size="29" textLength="172" lengthAdjust="spacingAndGlyphs">по чертежу</text>
<text x="1522" y="511.4" font-size="31" text-anchor="middle">7</text>
<text x="1553" y="510.4" font-size="29" textLength="186" lengthAdjust="spacingAndGlyphs">Болт М56×220</text>
<text x="1808" y="511.4" font-size="31" text-anchor="middle">220</text>
<text x="1894" y="511.4" font-size="31" text-anchor="middle">4</text>
<path d="M1930 500.4L1954 500.4" stroke-width="2.6"/>
<text x="2010" y="511.4" font-size="30" text-anchor="middle">5.7</text>
<text x="2102" y="511.4" font-size="30" text-anchor="middle">23</text>
<text x="2249" y="510.4" font-size="29" textLength="160" lengthAdjust="spacingAndGlyphs">по чертежу</text>
<text x="1522" y="552" font-size="31" text-anchor="middle">8</text>
<text x="1553" y="551" font-size="29" textLength="154" lengthAdjust="spacingAndGlyphs">Гайка  М56</text>
<path d="M1795 541L1825 541" stroke-width="3"/>
<text x="1894" y="552" font-size="31" text-anchor="middle">4</text>
<path d="M1930 541L1954 541" stroke-width="2.6"/>
<text x="2010" y="552" font-size="30" text-anchor="middle">1,4</text>
<text x="2102" y="552" font-size="30" text-anchor="middle">6</text>
<text x="2249" y="551" font-size="29" textLength="194" lengthAdjust="spacingAndGlyphs">ГОСТ 10605-72</text>
<text x="1522" y="594.5" font-size="31" text-anchor="middle">9</text>
<path d="M1795 583.5L1825 583.5" stroke-width="3"/>
<text x="1894" y="594.5" font-size="31" text-anchor="middle">4</text>
<path d="M1930 583.5L1954 583.5" stroke-width="2.6"/>
<text x="2010" y="594.5" font-size="30" text-anchor="middle">0,9</text>
<text x="2102" y="594.5" font-size="30" text-anchor="middle">4</text>
<text x="2249" y="593.5" font-size="29" textLength="190" lengthAdjust="spacingAndGlyphs">ГОСТ 10607-72</text>
<text x="1522" y="634" font-size="31" text-anchor="middle">10</text>
<text x="1553" y="633" font-size="29" textLength="192" lengthAdjust="spacingAndGlyphs">Шайба -δ=20</text>
<path d="M1795 623L1825 623" stroke-width="3"/>
<text x="1894" y="634" font-size="31" text-anchor="middle">4</text>
<path d="M1930 623L1954 623" stroke-width="2.6"/>
<text x="2010" y="634" font-size="30" text-anchor="middle">1,9</text>
<text x="2102" y="634" font-size="30" text-anchor="middle">8</text>
<text x="2249" y="633" font-size="29" textLength="170" lengthAdjust="spacingAndGlyphs">по чертежу</text>
<text x="1553" y="582" font-size="23" textLength="150" lengthAdjust="spacingAndGlyphs">Контргайки</text>
<text x="1610" y="604" font-size="22" textLength="48" lengthAdjust="spacingAndGlyphs">М56</text>
<text x="2204" y="290" font-size="31" text-anchor="middle">23</text>
<text x="2196" y="425" font-size="31" text-anchor="middle">30</text>
<text x="2192" y="577" font-size="31" text-anchor="middle">41</text>
<!-- s_notes -->
<text x="1633" y="742.5" font-size="37" textLength="249" lengthAdjust="spacingAndGlyphs">Примечания:</text>
<path d="M1613 752.7L1888 752.7" stroke-width="3.4"/>
<text x="1522" y="817.4" font-size="30" textLength="18" lengthAdjust="spacingAndGlyphs">1.</text>
<text x="1548.5" y="817.4" font-size="30" textLength="186.1" lengthAdjust="spacingAndGlyphs">Наголовники</text>
<text x="1746.8" y="817.4" font-size="30" textLength="212.2" lengthAdjust="spacingAndGlyphs">Д-7-1(Д-7ª-1),Д-8-1</text>
<text x="1971.3" y="817.4" font-size="30" textLength="139.5" lengthAdjust="spacingAndGlyphs">приварить</text>
<text x="2151.3" y="817.4" font-size="30" textLength="28.3" lengthAdjust="spacingAndGlyphs">на</text>
<text x="2210" y="817.4" font-size="30" textLength="95" lengthAdjust="spacingAndGlyphs">заводе</text>
<text x="2325" y="817.4" font-size="30">к</text>
<text x="1574.8" y="860" font-size="30" textLength="58.7" lengthAdjust="spacingAndGlyphs">дет.</text>
<text x="1647.7" y="860" font-size="30" textLength="48.3" lengthAdjust="spacingAndGlyphs">Д-2</text>
<text x="1720.5" y="860" font-size="30" textLength="200.2" lengthAdjust="spacingAndGlyphs">фундамента.</text>
<text x="1934.9" y="860" font-size="30" textLength="147.6" lengthAdjust="spacingAndGlyphs">плотным</text>
<text x="2114.9" y="860" font-size="30" textLength="84.9" lengthAdjust="spacingAndGlyphs">швом.</text>
<text x="1522" y="908.4" font-size="31" textLength="20" lengthAdjust="spacingAndGlyphs">2.</text>
<text x="1564.7" y="908.4" font-size="31" textLength="198.3" lengthAdjust="spacingAndGlyphs">Фундаменты</text>
<text x="1775" y="908.4" font-size="31" textLength="206.4" lengthAdjust="spacingAndGlyphs">с наголовниками</text>
<text x="1981.4" y="908.4" font-size="31" textLength="149.6" lengthAdjust="spacingAndGlyphs">Д-7-1(Д-7ª-1)</text>
<text x="2139" y="908.4" font-size="31" textLength="56.8" lengthAdjust="spacingAndGlyphs">Д-8-1</text>
<text x="2228" y="908.4" font-size="31" textLength="149.8" lengthAdjust="spacingAndGlyphs">поставля-</text>
<text x="1578.9" y="957" font-size="31" textLength="74.8" lengthAdjust="spacingAndGlyphs">ются</text>
<text x="1686" y="957" font-size="31" textLength="34.5" lengthAdjust="spacingAndGlyphs">на</text>
<text x="1732.6" y="957" font-size="31" textLength="95.1" lengthAdjust="spacingAndGlyphs">пикет</text>
<text x="1850" y="957" font-size="31">с</text>
<text x="1878.2" y="957" font-size="31" textLength="214.4" lengthAdjust="spacingAndGlyphs">комплектами</text>
<text x="2129" y="957" font-size="31" textLength="155.8" lengthAdjust="spacingAndGlyphs">анкерных</text>
<text x="1572.8" y="1003.5" font-size="31" textLength="107.2" lengthAdjust="spacingAndGlyphs">болтов</text>
<text x="1690" y="1003.5" font-size="31" textLength="174" lengthAdjust="spacingAndGlyphs">Д-7-1(Д-7ª-1),</text>
<text x="1874.2" y="1003.5" font-size="31" textLength="82.8" lengthAdjust="spacingAndGlyphs">Д-8-1</text>
<text x="1985.4" y="1003.5" font-size="31" textLength="273.1" lengthAdjust="spacingAndGlyphs">соответственно</text>
<text x="1520" y="1052" font-size="32" textLength="21" lengthAdjust="spacingAndGlyphs">3.</text>
<text x="1560.7" y="1052" font-size="32" textLength="149.7" lengthAdjust="spacingAndGlyphs">Анкерный</text>
<text x="1742.7" y="1052" font-size="32" textLength="82.9" lengthAdjust="spacingAndGlyphs">болт</text>
<text x="1848" y="1052" font-size="32" textLength="105" lengthAdjust="spacingAndGlyphs">поз.1, 4</text>
<text x="1965.2" y="1052" font-size="32" textLength="192.2" lengthAdjust="spacingAndGlyphs">отличается</text>
<text x="2183.7" y="1052" font-size="32" textLength="28.3" lengthAdjust="spacingAndGlyphs">от</text>
<text x="2224" y="1052" font-size="32" textLength="69" lengthAdjust="spacingAndGlyphs">болта</text>
<text x="2307" y="1052" font-size="32" textLength="107" lengthAdjust="spacingAndGlyphs">М42×18.</text>
<text x="1562.7" y="1098.6" font-size="27" textLength="99.1" lengthAdjust="spacingAndGlyphs">М48×180</text>
<text x="1686" y="1098.6" font-size="27" textLength="26.4" lengthAdjust="spacingAndGlyphs">по</text>
<text x="1720.5" y="1098.6" font-size="27" textLength="157.7" lengthAdjust="spacingAndGlyphs">ГОСТ 7798-70,*</text>
<text x="1884.3" y="1098.6" font-size="27">а</text>
<text x="1908.6" y="1098.6" font-size="27" textLength="121.4" lengthAdjust="spacingAndGlyphs">анкерный</text>
<text x="2040" y="1098.6" font-size="27" textLength="58.7" lengthAdjust="spacingAndGlyphs">болт</text>
<text x="2110.8" y="1098.6" font-size="27" textLength="72.9" lengthAdjust="spacingAndGlyphs">поз 7</text>
<text x="2216" y="1098.6" font-size="27" textLength="24.3" lengthAdjust="spacingAndGlyphs">от</text>
<text x="2268.6" y="1098.6" font-size="27" textLength="76.9" lengthAdjust="spacingAndGlyphs">болта</text>
<text x="1562.7" y="1143" font-size="28" textLength="97.1" lengthAdjust="spacingAndGlyphs">М56×220</text>
<text x="1686" y="1143" font-size="28" textLength="26.4" lengthAdjust="spacingAndGlyphs">по</text>
<text x="1722.5" y="1143" font-size="28" textLength="62.7" lengthAdjust="spacingAndGlyphs">ГОСТ</text>
<text x="1809.5" y="1143" font-size="28" textLength="125.5" lengthAdjust="spacingAndGlyphs">10602-72</text>
<text x="1950" y="1143" font-size="28">–</text>
<text x="1973.3" y="1143" font-size="28" textLength="109.2" lengthAdjust="spacingAndGlyphs">только</text>
<text x="2108.8" y="1143" font-size="28" textLength="107.2" lengthAdjust="spacingAndGlyphs">длиной</text>
<text x="2240.3" y="1143" font-size="28" textLength="117.3" lengthAdjust="spacingAndGlyphs">нарезки</text>
<text x="2361.6" y="1143" font-size="28" textLength="14.4" lengthAdjust="spacingAndGlyphs">ℓ.</text>
<!-- s_aa -->
<text x="391" y="865" font-size="48" textLength="90" lengthAdjust="spacingAndGlyphs">А - А</text>
<path d="M374 871.5L505 871.5" stroke-width="4.5"/>
<text x="178" y="870" font-size="33" class="n" textLength="56" lengthAdjust="spacingAndGlyphs">Д-2</text>
<path d="M175 878L250 878" stroke-width="2.5"/>
<path d="M250 878Q262 880 269 890" stroke-width="2.3"/>
<path d="M280 899L320 925" stroke-width="2.1" stroke-dasharray="16 14"/>
<path d="M309 906L547.5 906L547.5 1139.5L309 1139.5Z" stroke-width="3.4"/>
<path d="M372.8 900L380.8 900L380.8 1147L372.8 1147Z" stroke-width="2.8" fill="#fff"/>
<path d="M479.5 900L487.5 900L487.5 1147L479.5 1147Z" stroke-width="2.8" fill="#fff"/>
<path d="M303 966L554 966" stroke-width="2.8"/>
<path d="M303 972L554 972" stroke-width="2.8"/>
<path d="M303 966L303 972" stroke-width="2.4"/>
<path d="M554 966L554 972" stroke-width="2.4"/>
<path d="M303 1074.5L554 1074.5" stroke-width="2.8"/>
<path d="M303 1080.5L554 1080.5" stroke-width="2.8"/>
<path d="M303 1074.5L303 1080.5" stroke-width="2.4"/>
<path d="M554 1074.5L554 1080.5" stroke-width="2.4"/>
<path d="M372.8 900L372.8 1147" stroke-width="2.8"/>
<path d="M380.8 900L380.8 1147" stroke-width="2.8"/>
<path d="M479.5 900L479.5 1147" stroke-width="2.8"/>
<path d="M487.5 900L487.5 1147" stroke-width="2.8"/>
<path d="M313 966L313 960" stroke-width="2.5"/>
<path d="M322 966L322 960" stroke-width="2.5"/>
<path d="M331 966L331 960" stroke-width="2.5"/>
<path d="M340 966L340 960" stroke-width="2.5"/>
<path d="M349 966L349 960" stroke-width="2.5"/>
<path d="M358 966L358 960" stroke-width="2.5"/>
<path d="M394 966L394 960" stroke-width="2.5"/>
<path d="M403 966L403 960" stroke-width="2.5"/>
<path d="M412 966L412 960" stroke-width="2.5"/>
<path d="M421 966L421 960" stroke-width="2.5"/>
<path d="M430 966L430 960" stroke-width="2.5"/>
<path d="M439 966L439 960" stroke-width="2.5"/>
<path d="M448 966L448 960" stroke-width="2.5"/>
<path d="M457 966L457 960" stroke-width="2.5"/>
<path d="M466 966L466 960" stroke-width="2.5"/>
<path d="M502 966L502 960" stroke-width="2.5"/>
<path d="M511 966L511 960" stroke-width="2.5"/>
<path d="M520 966L520 960" stroke-width="2.5"/>
<path d="M529 966L529 960" stroke-width="2.5"/>
<path d="M538 966L538 960" stroke-width="2.5"/>
<path d="M316 972L316 978" stroke-width="2.5"/>
<path d="M325 972L325 978" stroke-width="2.5"/>
<path d="M334 972L334 978" stroke-width="2.5"/>
<path d="M343 972L343 978" stroke-width="2.5"/>
<path d="M352 972L352 978" stroke-width="2.5"/>
<path d="M361 972L361 978" stroke-width="2.5"/>
<path d="M388 972L388 978" stroke-width="2.5"/>
<path d="M397 972L397 978" stroke-width="2.5"/>
<path d="M406 972L406 978" stroke-width="2.5"/>
<path d="M415 972L415 978" stroke-width="2.5"/>
<path d="M424 972L424 978" stroke-width="2.5"/>
<path d="M433 972L433 978" stroke-width="2.5"/>
<path d="M442 972L442 978" stroke-width="2.5"/>
<path d="M451 972L451 978" stroke-width="2.5"/>
<path d="M460 972L460 978" stroke-width="2.5"/>
<path d="M469 972L469 978" stroke-width="2.5"/>
<path d="M496 972L496 978" stroke-width="2.5"/>
<path d="M505 972L505 978" stroke-width="2.5"/>
<path d="M514 972L514 978" stroke-width="2.5"/>
<path d="M523 972L523 978" stroke-width="2.5"/>
<path d="M532 972L532 978" stroke-width="2.5"/>
<path d="M541 972L541 978" stroke-width="2.5"/>
<path d="M313 1074.5L313 1068.5" stroke-width="2.5"/>
<path d="M322 1074.5L322 1068.5" stroke-width="2.5"/>
<path d="M331 1074.5L331 1068.5" stroke-width="2.5"/>
<path d="M340 1074.5L340 1068.5" stroke-width="2.5"/>
<path d="M349 1074.5L349 1068.5" stroke-width="2.5"/>
<path d="M358 1074.5L358 1068.5" stroke-width="2.5"/>
<path d="M394 1074.5L394 1068.5" stroke-width="2.5"/>
<path d="M403 1074.5L403 1068.5" stroke-width="2.5"/>
<path d="M412 1074.5L412 1068.5" stroke-width="2.5"/>
<path d="M421 1074.5L421 1068.5" stroke-width="2.5"/>
<path d="M430 1074.5L430 1068.5" stroke-width="2.5"/>
<path d="M439 1074.5L439 1068.5" stroke-width="2.5"/>
<path d="M448 1074.5L448 1068.5" stroke-width="2.5"/>
<path d="M457 1074.5L457 1068.5" stroke-width="2.5"/>
<path d="M466 1074.5L466 1068.5" stroke-width="2.5"/>
<path d="M502 1074.5L502 1068.5" stroke-width="2.5"/>
<path d="M511 1074.5L511 1068.5" stroke-width="2.5"/>
<path d="M520 1074.5L520 1068.5" stroke-width="2.5"/>
<path d="M529 1074.5L529 1068.5" stroke-width="2.5"/>
<path d="M538 1074.5L538 1068.5" stroke-width="2.5"/>
<path d="M316 1080.5L316 1086.5" stroke-width="2.5"/>
<path d="M325 1080.5L325 1086.5" stroke-width="2.5"/>
<path d="M334 1080.5L334 1086.5" stroke-width="2.5"/>
<path d="M343 1080.5L343 1086.5" stroke-width="2.5"/>
<path d="M352 1080.5L352 1086.5" stroke-width="2.5"/>
<path d="M361 1080.5L361 1086.5" stroke-width="2.5"/>
<path d="M388 1080.5L388 1086.5" stroke-width="2.5"/>
<path d="M397 1080.5L397 1086.5" stroke-width="2.5"/>
<path d="M406 1080.5L406 1086.5" stroke-width="2.5"/>
<path d="M415 1080.5L415 1086.5" stroke-width="2.5"/>
<path d="M424 1080.5L424 1086.5" stroke-width="2.5"/>
<path d="M433 1080.5L433 1086.5" stroke-width="2.5"/>
<path d="M442 1080.5L442 1086.5" stroke-width="2.5"/>
<path d="M451 1080.5L451 1086.5" stroke-width="2.5"/>
<path d="M460 1080.5L460 1086.5" stroke-width="2.5"/>
<path d="M469 1080.5L469 1086.5" stroke-width="2.5"/>
<path d="M496 1080.5L496 1086.5" stroke-width="2.5"/>
<path d="M505 1080.5L505 1086.5" stroke-width="2.5"/>
<path d="M514 1080.5L514 1086.5" stroke-width="2.5"/>
<path d="M523 1080.5L523 1086.5" stroke-width="2.5"/>
<path d="M532 1080.5L532 1086.5" stroke-width="2.5"/>
<path d="M541 1080.5L541 1086.5" stroke-width="2.5"/>
<path d="M372.8 912L366.8 912" stroke-width="2.5"/>
<path d="M372.8 921L366.8 921" stroke-width="2.5"/>
<path d="M372.8 930L366.8 930" stroke-width="2.5"/>
<path d="M372.8 939L366.8 939" stroke-width="2.5"/>
<path d="M372.8 948L366.8 948" stroke-width="2.5"/>
<path d="M372.8 957L366.8 957" stroke-width="2.5"/>
<path d="M372.8 984L366.8 984" stroke-width="2.5"/>
<path d="M372.8 1047L366.8 1047" stroke-width="2.5"/>
<path d="M372.8 1056L366.8 1056" stroke-width="2.5"/>
<path d="M372.8 1065L366.8 1065" stroke-width="2.5"/>
<path d="M372.8 1092L366.8 1092" stroke-width="2.5"/>
<path d="M372.8 1101L366.8 1101" stroke-width="2.5"/>
<path d="M372.8 1110L366.8 1110" stroke-width="2.5"/>
<path d="M372.8 1119L366.8 1119" stroke-width="2.5"/>
<path d="M372.8 1128L366.8 1128" stroke-width="2.5"/>
<path d="M487.5 912L493.5 912" stroke-width="2.5"/>
<path d="M487.5 921L493.5 921" stroke-width="2.5"/>
<path d="M487.5 930L493.5 930" stroke-width="2.5"/>
<path d="M487.5 939L493.5 939" stroke-width="2.5"/>
<path d="M487.5 948L493.5 948" stroke-width="2.5"/>
<path d="M487.5 957L493.5 957" stroke-width="2.5"/>
<path d="M487.5 984L493.5 984" stroke-width="2.5"/>
<path d="M487.5 993L493.5 993" stroke-width="2.5"/>
<path d="M487.5 1002L493.5 1002" stroke-width="2.5"/>
<path d="M487.5 1011L493.5 1011" stroke-width="2.5"/>
<path d="M487.5 1020L493.5 1020" stroke-width="2.5"/>
<path d="M487.5 1029L493.5 1029" stroke-width="2.5"/>
<path d="M487.5 1038L493.5 1038" stroke-width="2.5"/>
<path d="M487.5 1047L493.5 1047" stroke-width="2.5"/>
<path d="M487.5 1056L493.5 1056" stroke-width="2.5"/>
<path d="M487.5 1065L493.5 1065" stroke-width="2.5"/>
<path d="M487.5 1092L493.5 1092" stroke-width="2.5"/>
<path d="M487.5 1101L493.5 1101" stroke-width="2.5"/>
<path d="M487.5 1110L493.5 1110" stroke-width="2.5"/>
<path d="M487.5 1119L493.5 1119" stroke-width="2.5"/>
<path d="M487.5 1128L493.5 1128" stroke-width="2.5"/>
<path d="M380.8 1085L386.8 1085" stroke-width="2.5"/>
<path d="M380.8 1094L386.8 1094" stroke-width="2.5"/>
<path d="M380.8 1103L386.8 1103" stroke-width="2.5"/>
<path d="M380.8 1112L386.8 1112" stroke-width="2.5"/>
<path d="M380.8 1121L386.8 1121" stroke-width="2.5"/>
<path d="M380.8 1130L386.8 1130" stroke-width="2.5"/>
<path d="M479.5 912L473.5 912" stroke-width="2.5"/>
<path d="M479.5 921L473.5 921" stroke-width="2.5"/>
<path d="M479.5 930L473.5 930" stroke-width="2.5"/>
<path d="M479.5 939L473.5 939" stroke-width="2.5"/>
<path d="M479.5 948L473.5 948" stroke-width="2.5"/>
<path d="M479.5 957L473.5 957" stroke-width="2.5"/>
<path d="M479.5 1085L473.5 1085" stroke-width="2.5"/>
<path d="M479.5 1094L473.5 1094" stroke-width="2.5"/>
<path d="M479.5 1103L473.5 1103" stroke-width="2.5"/>
<path d="M479.5 1112L473.5 1112" stroke-width="2.5"/>
<path d="M479.5 1121L473.5 1121" stroke-width="2.5"/>
<path d="M479.5 1130L473.5 1130" stroke-width="2.5"/>
<path d="M220.7 904.7L220.7 1139.5" stroke-width="2.8"/>
<path d="M210 904.7L309 904.7" stroke-width="2.1" stroke-dasharray="22 8 5 8"/>
<path d="M238 972L303 972" stroke-width="2.1" stroke-dasharray="14 9"/>
<path d="M207 1072L303 1072" stroke-width="2.1" stroke-dasharray="24 7"/>
<path d="M206 1139.5L309 1139.5" stroke-width="2.1" stroke-dasharray="14 9"/>
<path d="M220.7 972L223.7 986L217.7 986Z" fill="#000" stroke-width="0.5"/>
<path d="M220.7 1072L217.7 1058L223.7 1058Z" fill="#000" stroke-width="0.5"/>
<text x="214" y="946" font-size="24" textLength="26" lengthAdjust="spacingAndGlyphs" transform="rotate(-90 214 946)">115</text>
<text x="213" y="1032" font-size="25" textLength="50" lengthAdjust="spacingAndGlyphs" transform="rotate(-90 213 1032)">170*</text>
<text x="214" y="1122" font-size="24" textLength="30" lengthAdjust="spacingAndGlyphs" transform="rotate(-90 214 1122)">115</text>
<path d="M310 1141L310 1203" stroke-width="2.1" stroke-dasharray="12 6"/>
<path d="M378 1148L378 1192" stroke-width="2.1" stroke-dasharray="10 7"/>
<path d="M478.5 1148L478.5 1200" stroke-width="2.5"/>
<path d="M546 1141L546 1198" stroke-width="2.1" stroke-dasharray="12 6"/>
<path d="M309 1189L547.5 1189" stroke-width="2.5" stroke-dasharray="40 6"/>
<text x="327" y="1185" font-size="25" textLength="35" lengthAdjust="spacingAndGlyphs">117</text>
<text x="410" y="1185" font-size="25" textLength="32" lengthAdjust="spacingAndGlyphs">166</text>
<text x="507" y="1185" font-size="25" textLength="34" lengthAdjust="spacingAndGlyphs">117</text>
<text x="334" y="952.5" font-size="19" textLength="25" lengthAdjust="spacingAndGlyphs">10</text>
<text x="427.5" y="952" font-size="19" textLength="21" lengthAdjust="spacingAndGlyphs">10</text>
<text x="494" y="943" font-size="19" textLength="19" lengthAdjust="spacingAndGlyphs">10</text>
<text x="361" y="1025" font-size="21" textLength="22" lengthAdjust="spacingAndGlyphs" transform="rotate(-90 361 1025)">10</text>
<text x="510" y="1033" font-size="21" textLength="24" lengthAdjust="spacingAndGlyphs" transform="rotate(-100 510 1033)">10</text>
<text x="343.5" y="1118" font-size="19" textLength="19" lengthAdjust="spacingAndGlyphs">10</text>
<text x="419.5" y="1109" font-size="19" textLength="20" lengthAdjust="spacingAndGlyphs">10</text>
<text x="502" y="1107.5" font-size="19" textLength="19" lengthAdjust="spacingAndGlyphs">10</text>
<text x="594" y="970" font-size="32" class="n" textLength="139" lengthAdjust="spacingAndGlyphs">Д-7(Д-7ª)</text>
<path d="M597 976.7L739.6 976.7" stroke-width="2.5"/>
<path d="M748 976.7L760 976.7" stroke-width="2.5"/>
<path d="M597 976.7L506.2 1072.8" stroke-width="2.5" stroke-dasharray="70 8 30 8"/>
<!-- s_bb -->
<text x="1004" y="851" font-size="43" textLength="94" lengthAdjust="spacingAndGlyphs">Б - Б</text>
<path d="M985.5 858.5L1116 858.5" stroke-width="4.5"/>
<text x="869.5" y="866" font-size="31" class="n" textLength="52" lengthAdjust="spacingAndGlyphs">Д-2</text>
<path d="M865 871.5L928 871.5" stroke-width="2.5"/>
<path d="M928 871.5L945.5 902" stroke-width="2.3" stroke-dasharray="12 5"/>
<path d="M934.2 906L1173.5 906L1174.5 1139.5L934.2 1139.5Z" stroke-width="3.4"/>
<path d="M977.4 899L985.4 899L985.4 1147L977.4 1147Z" stroke-width="2.8" fill="#fff"/>
<path d="M1124.2 899L1132.2 899L1132.2 1147L1124.2 1147Z" stroke-width="2.8" fill="#fff"/>
<path d="M925.4 945.5L1179 945.5" stroke-width="2.8"/>
<path d="M925.4 952L1179 952" stroke-width="2.8"/>
<path d="M925.4 945.5L925.4 952" stroke-width="2.4"/>
<path d="M1179 945.5L1179 952" stroke-width="2.4"/>
<path d="M929.4 1093L1180.2 1093" stroke-width="2.8"/>
<path d="M929.4 1099.5L1180.2 1099.5" stroke-width="2.8"/>
<path d="M929.4 1093L929.4 1099.5" stroke-width="2.4"/>
<path d="M1180.2 1093L1180.2 1099.5" stroke-width="2.4"/>
<path d="M977.4 899L977.4 1147" stroke-width="2.8"/>
<path d="M985.4 899L985.4 1147" stroke-width="2.8"/>
<path d="M1124.2 899L1124.2 1147" stroke-width="2.8"/>
<path d="M1132.2 899L1132.2 1147" stroke-width="2.8"/>
<path d="M940 945.5L940 940" stroke-width="2.5"/>
<path d="M949 945.5L949 940" stroke-width="2.5"/>
<path d="M958 945.5L958 940" stroke-width="2.5"/>
<path d="M967 945.5L967 940" stroke-width="2.5"/>
<path d="M994 945.5L994 940" stroke-width="2.5"/>
<path d="M1003 945.5L1003 940" stroke-width="2.5"/>
<path d="M1012 945.5L1012 940" stroke-width="2.5"/>
<path d="M1021 945.5L1021 940" stroke-width="2.5"/>
<path d="M1030 945.5L1030 940" stroke-width="2.5"/>
<path d="M1039 945.5L1039 940" stroke-width="2.5"/>
<path d="M1048 945.5L1048 940" stroke-width="2.5"/>
<path d="M1057 945.5L1057 940" stroke-width="2.5"/>
<path d="M1066 945.5L1066 940" stroke-width="2.5"/>
<path d="M1075 945.5L1075 940" stroke-width="2.5"/>
<path d="M1084 945.5L1084 940" stroke-width="2.5"/>
<path d="M1093 945.5L1093 940" stroke-width="2.5"/>
<path d="M1102 945.5L1102 940" stroke-width="2.5"/>
<path d="M1111 945.5L1111 940" stroke-width="2.5"/>
<path d="M1147 945.5L1147 940" stroke-width="2.5"/>
<path d="M1156 945.5L1156 940" stroke-width="2.5"/>
<path d="M1165 945.5L1165 940" stroke-width="2.5"/>
<path d="M940 952L940 957.5" stroke-width="2.5"/>
<path d="M949 952L949 957.5" stroke-width="2.5"/>
<path d="M958 952L958 957.5" stroke-width="2.5"/>
<path d="M967 952L967 957.5" stroke-width="2.5"/>
<path d="M1136 952L1136 957.5" stroke-width="2.5"/>
<path d="M1145 952L1145 957.5" stroke-width="2.5"/>
<path d="M1154 952L1154 957.5" stroke-width="2.5"/>
<path d="M940 1093L940 1087.5" stroke-width="2.5"/>
<path d="M949 1093L949 1087.5" stroke-width="2.5"/>
<path d="M958 1093L958 1087.5" stroke-width="2.5"/>
<path d="M967 1093L967 1087.5" stroke-width="2.5"/>
<path d="M1136 1093L1136 1087.5" stroke-width="2.5"/>
<path d="M1145 1093L1145 1087.5" stroke-width="2.5"/>
<path d="M1154 1093L1154 1087.5" stroke-width="2.5"/>
<path d="M1163 1093L1163 1087.5" stroke-width="2.5"/>
<path d="M940 1099.5L940 1105" stroke-width="2.5"/>
<path d="M949 1099.5L949 1105" stroke-width="2.5"/>
<path d="M958 1099.5L958 1105" stroke-width="2.5"/>
<path d="M967 1099.5L967 1105" stroke-width="2.5"/>
<path d="M994 1099.5L994 1105" stroke-width="2.5"/>
<path d="M1003 1099.5L1003 1105" stroke-width="2.5"/>
<path d="M1012 1099.5L1012 1105" stroke-width="2.5"/>
<path d="M1021 1099.5L1021 1105" stroke-width="2.5"/>
<path d="M1030 1099.5L1030 1105" stroke-width="2.5"/>
<path d="M1039 1099.5L1039 1105" stroke-width="2.5"/>
<path d="M1048 1099.5L1048 1105" stroke-width="2.5"/>
<path d="M1057 1099.5L1057 1105" stroke-width="2.5"/>
<path d="M1066 1099.5L1066 1105" stroke-width="2.5"/>
<path d="M1075 1099.5L1075 1105" stroke-width="2.5"/>
<path d="M1084 1099.5L1084 1105" stroke-width="2.5"/>
<path d="M1093 1099.5L1093 1105" stroke-width="2.5"/>
<path d="M1102 1099.5L1102 1105" stroke-width="2.5"/>
<path d="M1111 1099.5L1111 1105" stroke-width="2.5"/>
<path d="M1147 1099.5L1147 1105" stroke-width="2.5"/>
<path d="M1156 1099.5L1156 1105" stroke-width="2.5"/>
<path d="M1165 1099.5L1165 1105" stroke-width="2.5"/>
<path d="M977.4 912L971.4 912" stroke-width="2.5"/>
<path d="M977.4 921L971.4 921" stroke-width="2.5"/>
<path d="M977.4 930L971.4 930" stroke-width="2.5"/>
<path d="M977.4 966L971.4 966" stroke-width="2.5"/>
<path d="M977.4 975L971.4 975" stroke-width="2.5"/>
<path d="M977.4 984L971.4 984" stroke-width="2.5"/>
<path d="M977.4 993L971.4 993" stroke-width="2.5"/>
<path d="M977.4 1002L971.4 1002" stroke-width="2.5"/>
<path d="M977.4 1011L971.4 1011" stroke-width="2.5"/>
<path d="M977.4 1020L971.4 1020" stroke-width="2.5"/>
<path d="M977.4 1029L971.4 1029" stroke-width="2.5"/>
<path d="M977.4 1038L971.4 1038" stroke-width="2.5"/>
<path d="M977.4 1047L971.4 1047" stroke-width="2.5"/>
<path d="M977.4 1056L971.4 1056" stroke-width="2.5"/>
<path d="M977.4 1065L971.4 1065" stroke-width="2.5"/>
<path d="M977.4 1074L971.4 1074" stroke-width="2.5"/>
<path d="M977.4 1083L971.4 1083" stroke-width="2.5"/>
<path d="M977.4 1110L971.4 1110" stroke-width="2.5"/>
<path d="M977.4 1119L971.4 1119" stroke-width="2.5"/>
<path d="M977.4 1128L971.4 1128" stroke-width="2.5"/>
<path d="M1132.2 912L1138.2 912" stroke-width="2.5"/>
<path d="M1132.2 921L1138.2 921" stroke-width="2.5"/>
<path d="M1132.2 930L1138.2 930" stroke-width="2.5"/>
<path d="M1132.2 966L1138.2 966" stroke-width="2.5"/>
<path d="M1132.2 975L1138.2 975" stroke-width="2.5"/>
<path d="M1132.2 984L1138.2 984" stroke-width="2.5"/>
<path d="M1132.2 993L1138.2 993" stroke-width="2.5"/>
<path d="M1132.2 1002L1138.2 1002" stroke-width="2.5"/>
<path d="M1132.2 1011L1138.2 1011" stroke-width="2.5"/>
<path d="M1132.2 1020L1138.2 1020" stroke-width="2.5"/>
<path d="M1132.2 1029L1138.2 1029" stroke-width="2.5"/>
<path d="M1132.2 1038L1138.2 1038" stroke-width="2.5"/>
<path d="M1132.2 1083L1138.2 1083" stroke-width="2.5"/>
<path d="M1132.2 1110L1138.2 1110" stroke-width="2.5"/>
<path d="M1132.2 1119L1138.2 1119" stroke-width="2.5"/>
<path d="M1132.2 1128L1138.2 1128" stroke-width="2.5"/>
<path d="M985.4 912L990.9 912" stroke-width="2.5"/>
<path d="M985.4 921L990.9 921" stroke-width="2.5"/>
<path d="M985.4 930L990.9 930" stroke-width="2.5"/>
<path d="M985.4 939L990.9 939" stroke-width="2.5"/>
<path d="M1124.2 912L1118.7 912" stroke-width="2.5"/>
<path d="M1124.2 921L1118.7 921" stroke-width="2.5"/>
<path d="M1124.2 930L1118.7 930" stroke-width="2.5"/>
<path d="M1124.2 939L1118.7 939" stroke-width="2.5"/>
<path d="M1124.2 1105L1118.7 1105" stroke-width="2.5"/>
<path d="M1124.2 1114L1118.7 1114" stroke-width="2.5"/>
<path d="M1124.2 1123L1118.7 1123" stroke-width="2.5"/>
<path d="M1124.2 1132L1118.7 1132" stroke-width="2.5"/>
<path d="M859.5 904.7L859.5 1139.5" stroke-width="3"/>
<path d="M857 904.7L945 904.7" stroke-width="2.3" stroke-dasharray="26 8 5 8"/>
<path d="M872 951.4L925.4 951.4" stroke-width="2.1"/>
<path d="M860 1090L929 1090" stroke-width="2.1" stroke-dasharray="14 8"/>
<path d="M856 1139.5L934 1139.5" stroke-width="2.3" stroke-dasharray="20 7"/>
<path d="M859.5 951L862.5 965L856.5 965Z" fill="#000" stroke-width="0.5"/>
<path d="M859.5 1090L856.5 1076L862.5 1076Z" fill="#000" stroke-width="0.5"/>
<text x="851" y="942" font-size="28" textLength="33" lengthAdjust="spacingAndGlyphs" transform="rotate(-90 851 942)">82</text>
<text x="852" y="1044" font-size="30" textLength="54" lengthAdjust="spacingAndGlyphs" transform="rotate(-90 852 1044)">236</text>
<text x="851" y="1128" font-size="28" textLength="32" lengthAdjust="spacingAndGlyphs" transform="rotate(-90 851 1128)">82</text>
<path d="M934.7 1141L934.7 1199" stroke-width="2.3" stroke-dasharray="10 6"/>
<path d="M982.8 1170L982.8 1192" stroke-width="2.1" stroke-dasharray="8 6"/>
<path d="M1124.2 1148L1124.2 1198" stroke-width="2.1" stroke-dasharray="8 6"/>
<path d="M1174.3 1141L1174.3 1199" stroke-width="2.3" stroke-dasharray="14 5"/>
<path d="M934.7 1186.2L1174.3 1186.2" stroke-width="2.5" stroke-dasharray="34 9"/>
<text x="944" y="1181" font-size="26" textLength="27" lengthAdjust="spacingAndGlyphs">84</text>
<text x="1036" y="1181" font-size="26" textLength="47" lengthAdjust="spacingAndGlyphs">232</text>
<text x="1142.8" y="1181" font-size="26" textLength="24" lengthAdjust="spacingAndGlyphs">84</text>
<text x="946.8" y="932.7" font-size="20" textLength="19" lengthAdjust="spacingAndGlyphs">12</text>
<text x="1062.8" y="932.7" font-size="20" textLength="20" lengthAdjust="spacingAndGlyphs">12</text>
<text x="1139" y="934" font-size="20" textLength="20" lengthAdjust="spacingAndGlyphs">12</text>
<text x="960" y="1026" font-size="22" textLength="20" lengthAdjust="spacingAndGlyphs" transform="rotate(-90 960 1026)">12</text>
<text x="1148" y="1024" font-size="24" textLength="24" lengthAdjust="spacingAndGlyphs" transform="rotate(70 1148 1024)">12</text>
<text x="949.5" y="1126" font-size="20" textLength="20" lengthAdjust="spacingAndGlyphs">12</text>
<text x="1053.5" y="1126" font-size="20" textLength="20" lengthAdjust="spacingAndGlyphs">12</text>
<text x="1144.2" y="1126" font-size="20" textLength="20" lengthAdjust="spacingAndGlyphs">12</text>
<text x="1237.6" y="1008.8" font-size="31" class="n" textLength="44" lengthAdjust="spacingAndGlyphs">Д-8</text>
<path d="M1221.6 1014L1295 1014" stroke-width="2.5"/>
<path d="M1221.6 1014L1175 1072.8" stroke-width="2.3" stroke-dasharray="14 12"/>
<!-- s_bolts -->
<text x="587" y="1257.5" font-size="47" class="n" textLength="187" lengthAdjust="spacingAndGlyphs">Анкерные</text>
<text x="876" y="1256" font-size="47" class="n" textLength="143" lengthAdjust="spacingAndGlyphs">болты</text>
<path d="M567 1266.7L1032 1266.7" stroke-width="4.5"/>
<path d="M265.4 1302.7H240Q234.7 1302.7 234.7 1308V1382Q234.7 1388 241 1388H265.4Z" stroke-width="3.6"/>
<path d="M236 1322.7L265 1322.7" stroke-width="2.6"/>
<path d="M236 1370.8L265 1370.8" stroke-width="2.6"/>
<path d="M238 1323Q246 1334 238 1346Q246 1358 238 1370" stroke-width="2.5"/>
<path d="M265.4 1320L482.8 1320" stroke-width="3.4"/>
<path d="M265.4 1374.8L482.8 1374.8" stroke-width="3.4"/>
<path d="M337.4 1320L337.4 1374.8" stroke-width="2.6"/>
<path d="M476 1320L476 1374.8" stroke-width="2.6"/>
<path d="M482.8 1322L482.8 1373" stroke-width="2.6"/>
<path d="M337.4 1327.5L476 1327.5" stroke-width="2.5" stroke-dasharray="40 5"/>
<path d="M337.4 1368.6L476 1368.6" stroke-width="2.5" stroke-dasharray="40 5"/>
<path d="M222.7 1346.7L476 1346.7" stroke-width="2.1" stroke-dasharray="30 10 8 10"/>
<path d="M482.8 1321.4L556 1321.4" stroke-width="2.5"/>
<path d="M482.8 1374.8L556 1374.8" stroke-width="2.5"/>
<path d="M512.2 1321.4L512.2 1428" stroke-width="2.5" stroke-dasharray="80 6 20 6"/>
<path d="M549.5 1321.4L549.5 1374.8" stroke-width="2.6"/>
<path d="M549.5 1384L549.5 1421.5" stroke-width="2.1" stroke-dasharray="14 8"/>
<text x="506" y="1374" font-size="24" textLength="50" lengthAdjust="spacingAndGlyphs" transform="rotate(-90 506 1374)">М42</text>
<text x="543" y="1374" font-size="24" textLength="50" lengthAdjust="spacingAndGlyphs" transform="rotate(-90 543 1374)">М48</text>
<path d="M337.4 1374.8L337.4 1405.4" stroke-width="2.3"/>
<path d="M482.8 1386.8L482.8 1480" stroke-width="2.1" stroke-dasharray="16 7"/>
<path d="M264 1389.4L264 1476" stroke-width="2.1" stroke-dasharray="14 7"/>
<text x="358" y="1421.5" font-size="42" class="n">ℓ</text>
<text x="377" y="1426" font-size="20">о</text>
<text x="395" y="1421.5" font-size="25" textLength="69" lengthAdjust="spacingAndGlyphs">= 120</text>
<path d="M337.4 1432L482.8 1432" stroke-width="2.5" stroke-dasharray="36 6"/>
<path d="M337.4 1432L353.4 1429L353.4 1435Z" fill="#000" stroke-width="0.5"/>
<path d="M482.8 1432L466.8 1435L466.8 1429Z" fill="#000" stroke-width="0.5"/>
<text x="310" y="1469.5" font-size="38" class="n">ℓ</text>
<text x="329" y="1469.5" font-size="25" textLength="68" lengthAdjust="spacingAndGlyphs">= 180</text>
<path d="M264 1476L482.8 1476" stroke-width="2.5" stroke-dasharray="30 8"/>
<path d="M264 1476L280 1473L280 1479Z" fill="#000" stroke-width="0.5"/>
<circle cx="509.5" cy="1456" r="21.3" stroke-width="2.5"/>
<text x="509" y="1468" font-size="32" text-anchor="middle" class="n">1</text>
<circle cx="558.9" cy="1454.8" r="21.3" stroke-width="2.3" stroke-dasharray="40 6"/>
<text x="558" y="1467" font-size="32" text-anchor="middle" class="n">4</text>
<circle cx="586.9" cy="1525.5" r="21.3" stroke-width="2.5" stroke-dasharray="60 5"/>
<text x="586" y="1537" font-size="32" text-anchor="middle" class="n">3</text>
<circle cx="586.9" cy="1569.5" r="21.3" stroke-width="2.5"/>
<text x="586" y="1581" font-size="32" text-anchor="middle" class="n">6</text>
<path d="M598.9 1498.8L637.6 1432" stroke-width="2.3" stroke-dasharray="30 8"/>
<path d="M641.6 1286H764.3V1423Q764.3 1429.5 757 1429.5H641.6Z" stroke-width="4"/>
<path d="M588.2 1286L588.2 1429.5" stroke-width="2.6"/>
<path d="M573.5 1286L641.6 1286" stroke-width="2.3" stroke-dasharray="20 6"/>
<path d="M592 1344L627 1344" stroke-width="2.1" stroke-dasharray="12 8"/>
<path d="M577.5 1430.8L641.6 1430.8" stroke-width="2.5"/>
<path d="M588.2 1344L585.2 1330L591.2 1330Z" fill="#000" stroke-width="0.5"/>
<path d="M588.2 1429.5L585.2 1415.5L591.2 1415.5Z" fill="#000" stroke-width="0.5"/>
<text x="584" y="1326" font-size="25" textLength="28" lengthAdjust="spacingAndGlyphs" transform="rotate(-90 584 1326)">55</text>
<text x="584" y="1403" font-size="25" textLength="32" lengthAdjust="spacingAndGlyphs" transform="rotate(-90 584 1403)">75</text>
<circle cx="702.9" cy="1345.4" r="28" stroke-width="3"/>
<path d="M703.7 1270.7L703.7 1489.5" stroke-width="2.1" stroke-dasharray="40 6 6 6"/>
<path d="M663 1345.4L744.3 1345.4" stroke-width="2.1" stroke-dasharray="34 8 4 8"/>
<path d="M673.6 1294.7L702 1344" stroke-width="2.5"/>
<path d="M690 1323L680.4 1312.4L685.6 1309.4Z" fill="#000" stroke-width="0.5"/>
<path d="M717.6 1370.8L749.6 1424" stroke-width="2.3" stroke-dasharray="26 8"/>
<path d="M717.6 1370.8L727.4 1381.3L722.2 1384.3Z" fill="#000" stroke-width="0.5"/>
<path d="M763 1441.5L823.4 1550" stroke-width="2.5" stroke-dasharray="50 6"/>
<path d="M764.3 1286.7L817 1286.7" stroke-width="2.5"/>
<path d="M783 1429.2L826.5 1429.2" stroke-width="2.5"/>
<path d="M814 1286.7L814 1429.2" stroke-width="2.4"/>
<path d="M814 1286.7L817 1300.7L811 1300.7Z" fill="#000" stroke-width="0.5"/>
<path d="M814 1429.2L811 1415.2L817 1415.2Z" fill="#000" stroke-width="0.5"/>
<text x="808" y="1371" font-size="25" textLength="38" lengthAdjust="spacingAndGlyphs" transform="rotate(-90 808 1371)">130</text>
<path d="M641.6 1432L641.6 1496" stroke-width="2.1" stroke-dasharray="14 6"/>
<path d="M764.3 1440L764.3 1500" stroke-width="2.1" stroke-dasharray="14 6"/>
<path d="M640.2 1493.5L764.3 1493.5" stroke-width="2.6"/>
<text x="655" y="1487" font-size="25" textLength="28" lengthAdjust="spacingAndGlyphs">55</text>
<text x="720.3" y="1488" font-size="25" textLength="29" lengthAdjust="spacingAndGlyphs">55</text>
<text x="826.5" y="1547" font-size="28" class="n" textLength="296" lengthAdjust="spacingAndGlyphs">Отв.Ф44 (для поз 3)</text>
<path d="M823.4 1551.6L1139.4 1551.6" stroke-width="2.6"/>
<path d="M825 1550L825 1604.3" stroke-width="2.6"/>
<text x="831" y="1598" font-size="28" class="n" textLength="290" lengthAdjust="spacingAndGlyphs">Отв.Ф50 (для поз.6)</text>
<path d="M823.4 1605.8L1137.8 1605.8" stroke-width="2.6"/>
<path d="M908.6 1288.3H876Q871 1289 870 1296L866.7 1324V1370.4L870 1397Q871 1404 876 1404.5H908.6Z" stroke-width="3.6"/>
<path d="M868 1324L908 1324" stroke-width="2.6"/>
<path d="M868 1370.4L908 1370.4" stroke-width="2.6"/>
<path d="M871 1324Q878 1347 871 1370" stroke-width="2.5"/>
<path d="M908.6 1310L1173.4 1310" stroke-width="3.4"/>
<path d="M908.6 1378L1173.4 1378" stroke-width="3.4"/>
<path d="M1015.4 1310L1015.4 1378" stroke-width="3"/>
<path d="M1165.7 1310L1165.7 1378" stroke-width="2.6"/>
<path d="M1173.4 1313L1173.4 1376" stroke-width="2.6"/>
<path d="M1015.4 1317.7L1165.7 1317.7" stroke-width="2.5" stroke-dasharray="50 5"/>
<path d="M1015.4 1372L1165.7 1372" stroke-width="2.5" stroke-dasharray="50 5"/>
<path d="M840.4 1345L1213.7 1345" stroke-width="2.1" stroke-dasharray="28 12"/>
<path d="M1173.4 1311.5L1220 1311.5" stroke-width="2.1" stroke-dasharray="12 7"/>
<path d="M1173.4 1379.7L1220 1379.7" stroke-width="2.1" stroke-dasharray="12 7"/>
<path d="M1218.4 1313L1218.4 1330" stroke-width="2.6"/>
<path d="M1218.4 1358L1218.4 1379.7" stroke-width="2.6"/>
<text x="1212" y="1371" font-size="24" textLength="50" lengthAdjust="spacingAndGlyphs" transform="rotate(-90 1212 1371)">М56</text>
<path d="M1017 1385.9L1017 1447.8" stroke-width="2.1" stroke-dasharray="14 7"/>
<path d="M1175 1382.8L1175 1491.2" stroke-width="2.1" stroke-dasharray="14 7"/>
<path d="M909.5 1407.6L909.5 1491.2" stroke-width="2.5" stroke-dasharray="30 6"/>
<text x="1048" y="1423" font-size="42" class="n">ℓ</text>
<text x="1066" y="1428" font-size="20">о</text>
<text x="1084" y="1423" font-size="25" textLength="66" lengthAdjust="spacingAndGlyphs">= 130</text>
<path d="M1017 1432.3L1175 1432.3" stroke-width="2.8"/>
<text x="976" y="1469.5" font-size="38" class="n">ℓ</text>
<text x="996" y="1469.5" font-size="26" textLength="72" lengthAdjust="spacingAndGlyphs">= 220</text>
<path d="M909.5 1478.8L1175 1478.8" stroke-width="2.5" stroke-dasharray="30 9"/>
<circle cx="945.7" cy="1421.5" r="21.7" stroke-width="2.5"/>
<text x="945" y="1433" font-size="32" text-anchor="middle" class="n">7</text>
<path d="M962.8 1396.7L990.6 1356.4" stroke-width="2.3"/>
<circle cx="1244.7" cy="1497.4" r="20" stroke-width="2.3" stroke-dasharray="16 7"/>
<text x="1244" y="1508" font-size="28" text-anchor="middle" class="n" textLength="24" lengthAdjust="spacingAndGlyphs">10</text>
<path d="M1272.6 1286.7L1272.6 1478.8" stroke-width="2.1" stroke-dasharray="14 9"/>
<path d="M1303.5 1285.2L1422.8 1285.2L1424 1430.8L1305 1430.8Z" stroke-width="3.6"/>
<path d="M1254 1285.2L1254 1430.8" stroke-width="2.6"/>
<path d="M1241.6 1285.2L1303.5 1285.2" stroke-width="2.3" stroke-dasharray="16 6"/>
<path d="M1238.5 1348.7L1306.6 1348.7" stroke-width="2.3"/>
<path d="M1285 1430.8L1303.5 1430.8" stroke-width="2.3"/>
<path d="M1254 1348L1251 1334L1257 1334Z" fill="#000" stroke-width="0.5"/>
<path d="M1254 1430.8L1251 1416.8L1257 1416.8Z" fill="#000" stroke-width="0.5"/>
<path d="M1254 1348L1257 1362L1251 1362Z" fill="#000" stroke-width="0.5"/>
<text x="1246" y="1325" font-size="25" textLength="28" lengthAdjust="spacingAndGlyphs" transform="rotate(-90 1246 1325)">55</text>
<text x="1246" y="1411" font-size="25" textLength="28" lengthAdjust="spacingAndGlyphs" transform="rotate(-90 1246 1411)">75</text>
<circle cx="1362.4" cy="1345" r="37.2" stroke-width="3"/>
<text x="1330" y="1344" font-size="20" textLength="42" lengthAdjust="spacingAndGlyphs">Ф58</text>
<path d="M1362.4 1262L1362.4 1509.8" stroke-width="2.1" stroke-dasharray="36 8 6 8"/>
<path d="M1272.6 1345L1439.8 1345" stroke-width="2.1" stroke-dasharray="60 6"/>
<path d="M1422.8 1285.2L1489.4 1285.2" stroke-width="2.3" stroke-dasharray="20 6"/>
<path d="M1424 1430.8L1488 1430.8" stroke-width="2.5"/>
<path d="M1478.6 1285.2L1478.6 1430.8" stroke-width="2.4"/>
<path d="M1478.6 1285.2L1481.6 1299.2L1475.6 1299.2Z" fill="#000" stroke-width="0.5"/>
<path d="M1478.6 1430.8L1475.6 1416.8L1481.6 1416.8Z" fill="#000" stroke-width="0.5"/>
<text x="1473" y="1369" font-size="25" textLength="40" lengthAdjust="spacingAndGlyphs" transform="rotate(-90 1473 1369)">130</text>
<path d="M1303.5 1431L1303.5 1509.8" stroke-width="2.3" stroke-dasharray="14 6"/>
<path d="M1424.4 1431L1424.4 1505" stroke-width="2.3"/>
<path d="M1303.5 1494.3L1424.4 1494.3" stroke-width="2.6"/>
<text x="1317.5" y="1486.5" font-size="25" textLength="31" lengthAdjust="spacingAndGlyphs">55</text>
<text x="1382.5" y="1486.5" font-size="25" textLength="31" lengthAdjust="spacingAndGlyphs">55</text>
<path d="M1295.8 1447.8L1334.5 1413.8" stroke-width="2.3"/>
<!-- s_stamp -->
<path d="M1375.4 1541.7L2458 1543" stroke-width="3.2"/>
<path d="M1375.4 1541.7L1375.4 1658" stroke-width="3.2"/>
<path d="M1467 1541.7L1467 1658" stroke-width="3.2"/>
<path d="M1375.4 1602L1467 1602" stroke-width="3"/>
<path d="M2275.7 1542L2275.7 1659" stroke-width="3.2"/>
<path d="M2275.7 1604.3L2458 1604.3" stroke-width="3"/>
<path d="M2362.4 1604.3L2362.4 1659" stroke-width="3"/>
<text x="1388" y="1592.5" font-size="55" class="n r" textLength="57" lengthAdjust="spacingAndGlyphs">ТК</text>
<text x="1384" y="1639" font-size="30" textLength="77" lengthAdjust="spacingAndGlyphs">1976г</text>
<text x="1526.3" y="1573" font-size="30" class="n" textLength="571" lengthAdjust="spacingAndGlyphs">Деталь установки наголовников</text>
<text x="1560" y="1614" font-size="30" class="n" textLength="624" lengthAdjust="spacingAndGlyphs">Д-7, Д-7ª и Д-8 ,  анкерные болты</text>
<text x="1644.3" y="1652.5" font-size="29" class="n" textLength="417" lengthAdjust="spacingAndGlyphs">Д-7-1,  Д-7ª-1 ;  Д-8-1</text>
<text x="2300" y="1570.6" font-size="24" class="n" textLength="90" lengthAdjust="spacingAndGlyphs">Серия</text>
<text x="2292.5" y="1597" font-size="25" class="n" textLength="156">3.407-115</text>
<text x="2278" y="1628.4" font-size="22" textLength="79" lengthAdjust="spacingAndGlyphs">Выпуск</text>
<text x="2300" y="1653" font-size="22">2</text>
<text x="2369.6" y="1626" font-size="22" textLength="72" lengthAdjust="spacingAndGlyphs">Лист</text>
<text x="2372" y="1648" font-size="20" textLength="68" lengthAdjust="spacingAndGlyphs">МН-85</text>
</g></svg>
</body></html>
